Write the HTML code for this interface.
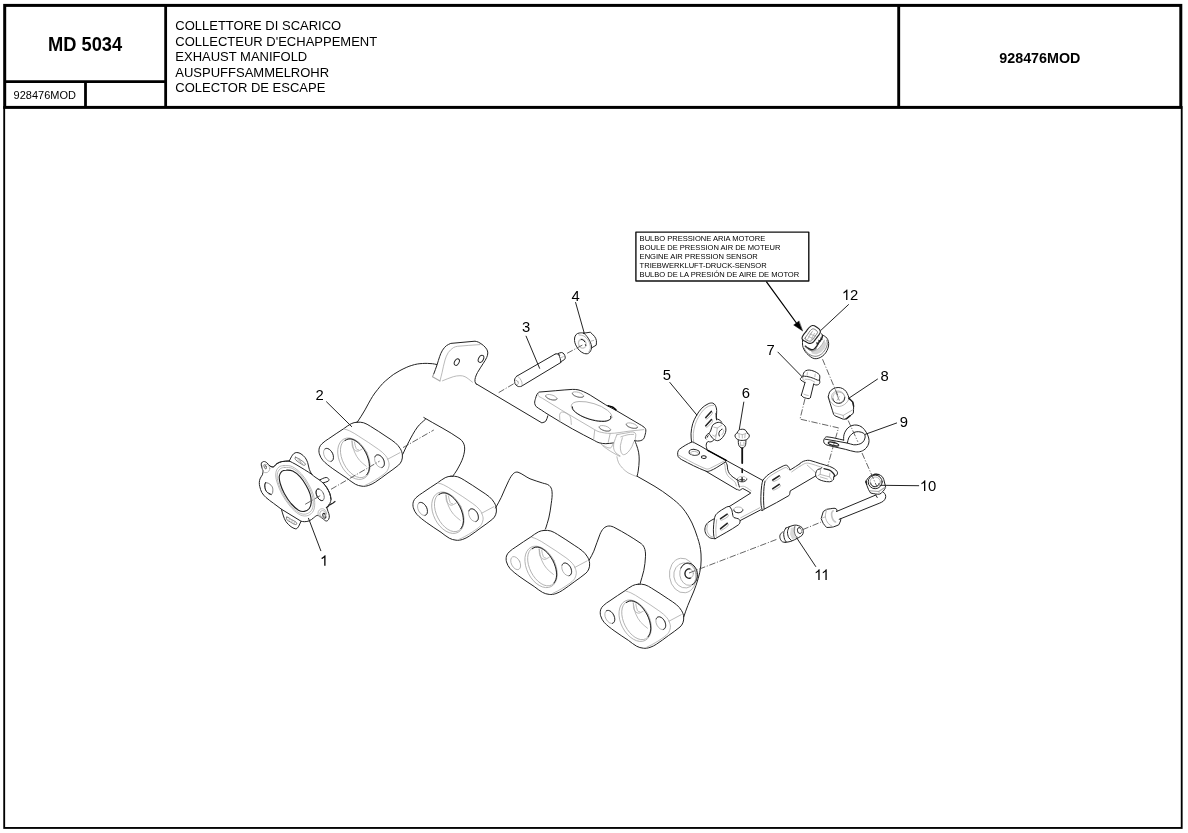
<!DOCTYPE html>
<html><head><meta charset="utf-8"><title>MD 5034</title>
<style>
html,body{margin:0;padding:0;background:#fff;}
body{width:1188px;height:833px;overflow:hidden;position:relative;font-family:"Liberation Sans",sans-serif;color:#000;}
svg{position:absolute;left:0;top:0;will-change:transform;}
text{font-family:"Liberation Sans",sans-serif;fill:#000;stroke:none;}
.t{font-size:13px;}
.n{font-size:13px;}
.l{font-size:7.5px;}
</style></head><body>
<svg width="1188" height="833" viewBox="0 0 1188 833">
<!-- FRAME -->
<g fill="none" stroke="#000">
<rect x="4.2" y="107" width="1177.5" height="720.95" stroke-width="1.85"/>
<rect x="4.7" y="5.4" width="1176.1" height="102" stroke-width="3"/>
<line x1="165.65" y1="5.4" x2="165.65" y2="107.4" stroke-width="2.8"/>
<line x1="898.7" y1="5.4" x2="898.7" y2="107.4" stroke-width="2.9"/>
<line x1="4.7" y1="81.6" x2="165.65" y2="81.6" stroke-width="2.8"/>
<line x1="85.5" y1="81.6" x2="85.5" y2="107.4" stroke-width="2.8"/>
</g>
<!-- HEADER TEXT -->
<text transform="translate(48.0 50.85) scale(0.915 1)" font-size="20" font-weight="bold">MD 5034</text>
<text transform="translate(13.6 98.5) scale(0.948 1)" font-size="11.6">928476MOD</text>
<text x="999.3" y="62.7" font-size="14.3" font-weight="bold">928476MOD</text>
<text class="t" x="175.3" y="29.8">COLLETTORE DI SCARICO</text>
<text class="t" x="175.3" y="45.6">COLLECTEUR D'ECHAPPEMENT</text>
<text class="t" x="175.3" y="61.2">EXHAUST MANIFOLD</text>
<text class="t" x="175.3" y="76.7">AUSPUFFSAMMELROHR</text>
<text class="t" x="175.3" y="92.0">COLECTOR DE ESCAPE</text>
<!-- DIAGRAM -->
<g id="diagram" fill="none" stroke-linecap="round" stroke-linejoin="round">
<g transform="translate(0 0)">
<path d="M357 422.2C355 422.3 353 422.8 351.2 423.7C348.5 425 346.2 427 343.7 428.7C338.7 432 333.6 435.2 328.7 438.7C326.4 440.2 324 441.7 322 443.7C320.8 444.8 319.8 446.2 319.3 447.8C318.8 449.7 318.8 451.8 319.3 453.7C320 456.1 321.2 458.5 322.8 460.3C325.7 463.6 329.4 466.1 332.8 468.7C337.4 472.1 342.3 475.1 347 478.3C349.8 480.3 352.3 482.6 355.3 484.2C357.4 485.3 359.7 486 362 486.2C364.2 486.5 366.5 486.1 368.7 485.4C371 484.7 373.2 483.4 375.3 482.1C379.4 479.5 383.1 476.5 387 473.7C390.9 470.8 395 468.2 398.7 465C399.9 463.9 401 462.4 401.6 460.8C402.3 459 402.6 457 402.4 455C402.2 452.8 401.5 450.6 400.3 448.7C399 446.5 397.3 444.5 395.3 442.8C392.8 440.6 389.8 438.9 387 437C381.5 433.3 376 429.6 370.3 426.2C368.2 424.9 366 423.5 363.7 422.8C361.5 422.2 359.2 422 357 422.2Z" stroke="#222" stroke-width="1.0" />
<path d="M344.5 429.1C346.2 429.6 347.9 430 349.5 430.8C352.7 432.3 355.7 434.2 358.7 436.2C365.4 440.5 372.2 444.8 378.7 449.5C381.1 451.2 383.4 453.1 385.3 455.3C386.5 456.6 387.4 458.3 388 459.9C388.6 461.6 389.3 463.5 389.1 465.3C388.8 467.6 388 469.9 386.6 471.6C384.4 474.2 381.4 475.9 378.7 477.8C376 479.7 373.2 481.2 370.3 482.8C368.7 483.7 367 484.5 365.3 485.3" stroke="#a8a8a8" stroke-width="0.8" />
<path d="M387.7 459.2L399.9 452.7" stroke="#a8a8a8" stroke-width="0.8" />
<ellipse cx="353.9" cy="458.7" rx="14.3" ry="22.1" transform="rotate(-27 353.9 458.7)" stroke="#a8a8a8" stroke-width="0.8"  />
<ellipse cx="354.9" cy="458.3" rx="12.3" ry="20.8" transform="rotate(-27 354.9 458.3)" stroke="#a8a8a8" stroke-width="0.8"  />
<path d="M345.1 440.6C346.1 440.1 347 439.2 348.1 439C349.4 438.7 350.7 438.8 351.9 439.1C353.4 439.5 354.8 440.2 356.1 441.1C357.6 442.1 359 443.3 360.3 444.7C361.7 446.2 362.9 447.8 364 449.6C365.2 451.3 366.2 453.3 367 455.2C367.8 457.1 368.4 459.1 368.9 461.1C369.2 462.9 369.5 464.8 369.5 466.7C369.4 468.3 369.2 469.9 368.7 471.4C368.3 472.6 367.4 473.6 366.8 474.7" stroke="#222" stroke-width="1.0" />
<path d="M352 440.8C352.3 443.1 351.8 445.7 352.8 447.8C353.6 449.4 355.2 450.9 357 451.2C358.8 451.4 360.3 449.8 362 449.1" stroke="#a8a8a8" stroke-width="0.8" />
<path d="M354.5 442C355.1 444.2 355.1 446.6 356.2 448.7C356.6 449.5 357.8 449.5 358.7 449.9" stroke="#a8a8a8" stroke-width="0.8" />
<path d="M352 441.2C352.8 444.8 353.1 448.5 354.5 452C355.7 455 357.4 457.8 359.5 460.3C361.4 462.6 363.9 464.2 366.2 466.2" stroke="#a8a8a8" stroke-width="0.8" />
<ellipse cx="328.5" cy="454.9" rx="4.3" ry="7" transform="rotate(-27 328.5 454.9)" stroke="#a8a8a8" stroke-width="0.8"  />
<path d="M325 448.9C325.5 448.7 325.9 448.4 326.4 448.4C326.9 448.3 327.5 448.5 328 448.6C328.6 448.9 329.2 449.2 329.7 449.6C330.3 450.1 330.8 450.6 331.3 451.2C331.7 451.8 332.2 452.5 332.5 453.2C332.8 453.9 333.1 454.7 333.3 455.4C333.4 456.1 333.5 456.9 333.5 457.6C333.5 458.2 333.4 458.8 333.2 459.4C333 459.9 332.7 460.4 332.3 460.7C331.9 461.1 331.4 461.2 331 461.4" stroke="#222"  stroke-width="0.85"/>
<ellipse cx="379.5" cy="461.2" rx="4.3" ry="6.8" transform="rotate(-27 379.5 461.2)" stroke="#a8a8a8" stroke-width="0.8"  />
<path d="M374.9 456.9C375.1 456.5 375.3 456 375.7 455.6C376 455.3 376.4 455 376.9 454.9C377.3 454.8 377.8 454.7 378.3 454.8C378.9 454.9 379.4 455.1 379.9 455.4C380.5 455.7 381 456.1 381.4 456.5C381.9 457 382.4 457.6 382.8 458.2C383.2 458.8 383.5 459.4 383.8 460.1C384 460.8 384.2 461.4 384.3 462.1C384.4 462.8 384.5 463.4 384.4 464.1C384.4 464.6 384.2 465.2 384 465.7C383.8 466.2 383.5 466.6 383.1 466.9C382.8 467.2 382.3 467.3 381.9 467.5" stroke="#222"  stroke-width="0.85"/>
</g>
<g transform="translate(94 54)">
<path d="M357 422.2C355 422.3 353 422.8 351.2 423.7C348.5 425 346.2 427 343.7 428.7C338.7 432 333.6 435.2 328.7 438.7C326.4 440.2 324 441.7 322 443.7C320.8 444.8 319.8 446.2 319.3 447.8C318.8 449.7 318.8 451.8 319.3 453.7C320 456.1 321.2 458.5 322.8 460.3C325.7 463.6 329.4 466.1 332.8 468.7C337.4 472.1 342.3 475.1 347 478.3C349.8 480.3 352.3 482.6 355.3 484.2C357.4 485.3 359.7 486 362 486.2C364.2 486.5 366.5 486.1 368.7 485.4C371 484.7 373.2 483.4 375.3 482.1C379.4 479.5 383.1 476.5 387 473.7C390.9 470.8 395 468.2 398.7 465C399.9 463.9 401 462.4 401.6 460.8C402.3 459 402.6 457 402.4 455C402.2 452.8 401.5 450.6 400.3 448.7C399 446.5 397.3 444.5 395.3 442.8C392.8 440.6 389.8 438.9 387 437C381.5 433.3 376 429.6 370.3 426.2C368.2 424.9 366 423.5 363.7 422.8C361.5 422.2 359.2 422 357 422.2Z" stroke="#222" stroke-width="1.0" />
<path d="M344.5 429.1C346.2 429.6 347.9 430 349.5 430.8C352.7 432.3 355.7 434.2 358.7 436.2C365.4 440.5 372.2 444.8 378.7 449.5C381.1 451.2 383.4 453.1 385.3 455.3C386.5 456.6 387.4 458.3 388 459.9C388.6 461.6 389.3 463.5 389.1 465.3C388.8 467.6 388 469.9 386.6 471.6C384.4 474.2 381.4 475.9 378.7 477.8C376 479.7 373.2 481.2 370.3 482.8C368.7 483.7 367 484.5 365.3 485.3" stroke="#a8a8a8" stroke-width="0.8" />
<path d="M387.7 459.2L399.9 452.7" stroke="#a8a8a8" stroke-width="0.8" />
<ellipse cx="353.9" cy="458.7" rx="14.3" ry="22.1" transform="rotate(-27 353.9 458.7)" stroke="#a8a8a8" stroke-width="0.8"  />
<ellipse cx="354.9" cy="458.3" rx="12.3" ry="20.8" transform="rotate(-27 354.9 458.3)" stroke="#a8a8a8" stroke-width="0.8"  />
<path d="M345.1 440.6C346.1 440.1 347 439.2 348.1 439C349.4 438.7 350.7 438.8 351.9 439.1C353.4 439.5 354.8 440.2 356.1 441.1C357.6 442.1 359 443.3 360.3 444.7C361.7 446.2 362.9 447.8 364 449.6C365.2 451.3 366.2 453.3 367 455.2C367.8 457.1 368.4 459.1 368.9 461.1C369.2 462.9 369.5 464.8 369.5 466.7C369.4 468.3 369.2 469.9 368.7 471.4C368.3 472.6 367.4 473.6 366.8 474.7" stroke="#222" stroke-width="1.0" />
<path d="M352 440.8C352.3 443.1 351.8 445.7 352.8 447.8C353.6 449.4 355.2 450.9 357 451.2C358.8 451.4 360.3 449.8 362 449.1" stroke="#a8a8a8" stroke-width="0.8" />
<path d="M354.5 442C355.1 444.2 355.1 446.6 356.2 448.7C356.6 449.5 357.8 449.5 358.7 449.9" stroke="#a8a8a8" stroke-width="0.8" />
<path d="M352 441.2C352.8 444.8 353.1 448.5 354.5 452C355.7 455 357.4 457.8 359.5 460.3C361.4 462.6 363.9 464.2 366.2 466.2" stroke="#a8a8a8" stroke-width="0.8" />
<ellipse cx="328.5" cy="454.9" rx="4.3" ry="7" transform="rotate(-27 328.5 454.9)" stroke="#a8a8a8" stroke-width="0.8"  />
<path d="M325 448.9C325.5 448.7 325.9 448.4 326.4 448.4C326.9 448.3 327.5 448.5 328 448.6C328.6 448.9 329.2 449.2 329.7 449.6C330.3 450.1 330.8 450.6 331.3 451.2C331.7 451.8 332.2 452.5 332.5 453.2C332.8 453.9 333.1 454.7 333.3 455.4C333.4 456.1 333.5 456.9 333.5 457.6C333.5 458.2 333.4 458.8 333.2 459.4C333 459.9 332.7 460.4 332.3 460.7C331.9 461.1 331.4 461.2 331 461.4" stroke="#222"  stroke-width="0.85"/>
<ellipse cx="379.5" cy="461.2" rx="4.3" ry="6.8" transform="rotate(-27 379.5 461.2)" stroke="#a8a8a8" stroke-width="0.8"  />
<path d="M374.9 456.9C375.1 456.5 375.3 456 375.7 455.6C376 455.3 376.4 455 376.9 454.9C377.3 454.8 377.8 454.7 378.3 454.8C378.9 454.9 379.4 455.1 379.9 455.4C380.5 455.7 381 456.1 381.4 456.5C381.9 457 382.4 457.6 382.8 458.2C383.2 458.8 383.5 459.4 383.8 460.1C384 460.8 384.2 461.4 384.3 462.1C384.4 462.8 384.5 463.4 384.4 464.1C384.4 464.6 384.2 465.2 384 465.7C383.8 466.2 383.5 466.6 383.1 466.9C382.8 467.2 382.3 467.3 381.9 467.5" stroke="#222"  stroke-width="0.85"/>
</g>
<g transform="translate(187.2 108.2)">
<path d="M357 422.2C355 422.3 353 422.8 351.2 423.7C348.5 425 346.2 427 343.7 428.7C338.7 432 333.6 435.2 328.7 438.7C326.4 440.2 324 441.7 322 443.7C320.8 444.8 319.8 446.2 319.3 447.8C318.8 449.7 318.8 451.8 319.3 453.7C320 456.1 321.2 458.5 322.8 460.3C325.7 463.6 329.4 466.1 332.8 468.7C337.4 472.1 342.3 475.1 347 478.3C349.8 480.3 352.3 482.6 355.3 484.2C357.4 485.3 359.7 486 362 486.2C364.2 486.5 366.5 486.1 368.7 485.4C371 484.7 373.2 483.4 375.3 482.1C379.4 479.5 383.1 476.5 387 473.7C390.9 470.8 395 468.2 398.7 465C399.9 463.9 401 462.4 401.6 460.8C402.3 459 402.6 457 402.4 455C402.2 452.8 401.5 450.6 400.3 448.7C399 446.5 397.3 444.5 395.3 442.8C392.8 440.6 389.8 438.9 387 437C381.5 433.3 376 429.6 370.3 426.2C368.2 424.9 366 423.5 363.7 422.8C361.5 422.2 359.2 422 357 422.2Z" stroke="#222" stroke-width="1.0" />
<path d="M344.5 429.1C346.2 429.6 347.9 430 349.5 430.8C352.7 432.3 355.7 434.2 358.7 436.2C365.4 440.5 372.2 444.8 378.7 449.5C381.1 451.2 383.4 453.1 385.3 455.3C386.5 456.6 387.4 458.3 388 459.9C388.6 461.6 389.3 463.5 389.1 465.3C388.8 467.6 388 469.9 386.6 471.6C384.4 474.2 381.4 475.9 378.7 477.8C376 479.7 373.2 481.2 370.3 482.8C368.7 483.7 367 484.5 365.3 485.3" stroke="#a8a8a8" stroke-width="0.8" />
<path d="M387.7 459.2L399.9 452.7" stroke="#a8a8a8" stroke-width="0.8" />
<ellipse cx="353.9" cy="458.7" rx="14.3" ry="22.1" transform="rotate(-27 353.9 458.7)" stroke="#a8a8a8" stroke-width="0.8"  />
<ellipse cx="354.9" cy="458.3" rx="12.3" ry="20.8" transform="rotate(-27 354.9 458.3)" stroke="#a8a8a8" stroke-width="0.8"  />
<path d="M345.1 440.6C346.1 440.1 347 439.2 348.1 439C349.4 438.7 350.7 438.8 351.9 439.1C353.4 439.5 354.8 440.2 356.1 441.1C357.6 442.1 359 443.3 360.3 444.7C361.7 446.2 362.9 447.8 364 449.6C365.2 451.3 366.2 453.3 367 455.2C367.8 457.1 368.4 459.1 368.9 461.1C369.2 462.9 369.5 464.8 369.5 466.7C369.4 468.3 369.2 469.9 368.7 471.4C368.3 472.6 367.4 473.6 366.8 474.7" stroke="#222" stroke-width="1.0" />
<path d="M352 440.8C352.3 443.1 351.8 445.7 352.8 447.8C353.6 449.4 355.2 450.9 357 451.2C358.8 451.4 360.3 449.8 362 449.1" stroke="#a8a8a8" stroke-width="0.8" />
<path d="M354.5 442C355.1 444.2 355.1 446.6 356.2 448.7C356.6 449.5 357.8 449.5 358.7 449.9" stroke="#a8a8a8" stroke-width="0.8" />
<path d="M352 441.2C352.8 444.8 353.1 448.5 354.5 452C355.7 455 357.4 457.8 359.5 460.3C361.4 462.6 363.9 464.2 366.2 466.2" stroke="#a8a8a8" stroke-width="0.8" />
<ellipse cx="328.5" cy="454.9" rx="4.3" ry="7" transform="rotate(-27 328.5 454.9)" stroke="#a8a8a8" stroke-width="0.8"  />
<ellipse cx="379.5" cy="461.2" rx="4.3" ry="6.8" transform="rotate(-27 379.5 461.2)" stroke="#a8a8a8" stroke-width="0.8"  />
<path d="M374.9 456.9C375.1 456.5 375.3 456 375.7 455.6C376 455.3 376.4 455 376.9 454.9C377.3 454.8 377.8 454.7 378.3 454.8C378.9 454.9 379.4 455.1 379.9 455.4C380.5 455.7 381 456.1 381.4 456.5C381.9 457 382.4 457.6 382.8 458.2C383.2 458.8 383.5 459.4 383.8 460.1C384 460.8 384.2 461.4 384.3 462.1C384.4 462.8 384.5 463.4 384.4 464.1C384.4 464.6 384.2 465.2 384 465.7C383.8 466.2 383.5 466.6 383.1 466.9C382.8 467.2 382.3 467.3 381.9 467.5" stroke="#222"  stroke-width="0.85"/>
</g>
<g transform="translate(281.3 162)">
<path d="M357 422.2C355 422.3 353 422.8 351.2 423.7C348.5 425 346.2 427 343.7 428.7C338.7 432 333.6 435.2 328.7 438.7C326.4 440.2 324 441.7 322 443.7C320.8 444.8 319.8 446.2 319.3 447.8C318.8 449.7 318.8 451.8 319.3 453.7C320 456.1 321.2 458.5 322.8 460.3C325.7 463.6 329.4 466.1 332.8 468.7C337.4 472.1 342.3 475.1 347 478.3C349.8 480.3 352.3 482.6 355.3 484.2C357.4 485.3 359.7 486 362 486.2C364.2 486.5 366.5 486.1 368.7 485.4C371 484.7 373.2 483.4 375.3 482.1C379.4 479.5 383.1 476.5 387 473.7C390.9 470.8 395 468.2 398.7 465C399.9 463.9 401 462.4 401.6 460.8C402.3 459 402.6 457 402.4 455C402.2 452.8 401.5 450.6 400.3 448.7C399 446.5 397.3 444.5 395.3 442.8C392.8 440.6 389.8 438.9 387 437C381.5 433.3 376 429.6 370.3 426.2C368.2 424.9 366 423.5 363.7 422.8C361.5 422.2 359.2 422 357 422.2Z" stroke="#222" stroke-width="1.0" />
<path d="M344.5 429.1C346.2 429.6 347.9 430 349.5 430.8C352.7 432.3 355.7 434.2 358.7 436.2C365.4 440.5 372.2 444.8 378.7 449.5C381.1 451.2 383.4 453.1 385.3 455.3C386.5 456.6 387.4 458.3 388 459.9C388.6 461.6 389.3 463.5 389.1 465.3C388.8 467.6 388 469.9 386.6 471.6C384.4 474.2 381.4 475.9 378.7 477.8C376 479.7 373.2 481.2 370.3 482.8C368.7 483.7 367 484.5 365.3 485.3" stroke="#a8a8a8" stroke-width="0.8" />
<path d="M387.7 459.2L399.9 452.7" stroke="#a8a8a8" stroke-width="0.8" />
<ellipse cx="353.9" cy="458.7" rx="14.3" ry="22.1" transform="rotate(-27 353.9 458.7)" stroke="#a8a8a8" stroke-width="0.8"  />
<ellipse cx="354.9" cy="458.3" rx="12.3" ry="20.8" transform="rotate(-27 354.9 458.3)" stroke="#a8a8a8" stroke-width="0.8"  />
<path d="M345.1 440.6C346.1 440.1 347 439.2 348.1 439C349.4 438.7 350.7 438.8 351.9 439.1C353.4 439.5 354.8 440.2 356.1 441.1C357.6 442.1 359 443.3 360.3 444.7C361.7 446.2 362.9 447.8 364 449.6C365.2 451.3 366.2 453.3 367 455.2C367.8 457.1 368.4 459.1 368.9 461.1C369.2 462.9 369.5 464.8 369.5 466.7C369.4 468.3 369.2 469.9 368.7 471.4C368.3 472.6 367.4 473.6 366.8 474.7" stroke="#222" stroke-width="1.0" />
<path d="M352 440.8C352.3 443.1 351.8 445.7 352.8 447.8C353.6 449.4 355.2 450.9 357 451.2C358.8 451.4 360.3 449.8 362 449.1" stroke="#a8a8a8" stroke-width="0.8" />
<path d="M354.5 442C355.1 444.2 355.1 446.6 356.2 448.7C356.6 449.5 357.8 449.5 358.7 449.9" stroke="#a8a8a8" stroke-width="0.8" />
<path d="M352 441.2C352.8 444.8 353.1 448.5 354.5 452C355.7 455 357.4 457.8 359.5 460.3C361.4 462.6 363.9 464.2 366.2 466.2" stroke="#a8a8a8" stroke-width="0.8" />
<ellipse cx="328.5" cy="454.9" rx="4.3" ry="7" transform="rotate(-27 328.5 454.9)" stroke="#a8a8a8" stroke-width="0.8"  />
<path d="M325 448.9C325.5 448.7 325.9 448.4 326.4 448.4C326.9 448.3 327.5 448.5 328 448.6C328.6 448.9 329.2 449.2 329.7 449.6C330.3 450.1 330.8 450.6 331.3 451.2C331.7 451.8 332.2 452.5 332.5 453.2C332.8 453.9 333.1 454.7 333.3 455.4C333.4 456.1 333.5 456.9 333.5 457.6C333.5 458.2 333.4 458.8 333.2 459.4C333 459.9 332.7 460.4 332.3 460.7C331.9 461.1 331.4 461.2 331 461.4" stroke="#222"  stroke-width="0.85"/>
<ellipse cx="379.5" cy="461.2" rx="4.3" ry="6.8" transform="rotate(-27 379.5 461.2)" stroke="#a8a8a8" stroke-width="0.8"  />
<path d="M374.9 456.9C375.1 456.5 375.3 456 375.7 455.6C376 455.3 376.4 455 376.9 454.9C377.3 454.8 377.8 454.7 378.3 454.8C378.9 454.9 379.4 455.1 379.9 455.4C380.5 455.7 381 456.1 381.4 456.5C381.9 457 382.4 457.6 382.8 458.2C383.2 458.8 383.5 459.4 383.8 460.1C384 460.8 384.2 461.4 384.3 462.1C384.4 462.8 384.5 463.4 384.4 464.1C384.4 464.6 384.2 465.2 384 465.7C383.8 466.2 383.5 466.6 383.1 466.9C382.8 467.2 382.3 467.3 381.9 467.5" stroke="#222"  stroke-width="0.85"/>
</g>
<path d="M357.5 421.8C358.7 419.9 360 418.1 361.2 416.2C362.5 414.1 363.8 412 365 409.9C366.3 407.7 367.5 405.3 368.7 403.1C370 400.9 371.1 398.6 372.5 396.5C374 394.1 375.7 391.9 377.5 389.7C379.1 387.7 380.7 385.6 382.5 383.7C384.2 381.9 386.2 380.3 388.1 378.7C389.9 377.2 391.7 375.7 393.7 374.3C395.7 373 397.8 371.8 399.9 370.6C402 369.5 404.1 368.4 406.2 367.5C408 366.7 409.9 365.9 411.8 365.4C413.7 364.8 415.5 364.3 417.4 364C419.1 363.7 420.8 363.6 422.4 363.5C424.1 363.4 425.8 363.3 427.4 363.4C429.1 363.4 430.8 363.5 432.4 363.7C433.9 363.9 435.3 364.2 436.8 364.5" stroke="#222" stroke-width="1.0" />
<path d="M433.5 374.6C434.7 371.3 436 368 437.1 364.7C438 362 438.6 359.3 439.6 356.7C440.4 354.4 441.2 352.2 442.5 350.2C443.6 348.4 444.9 346.9 446.5 345.6C447.8 344.6 449.4 344.1 450.8 343.4L475 341.2C476.1 341.5 477.3 341.6 478.3 342.1C480.1 343 481.8 344.1 483.3 345.4C484.6 346.5 485.8 347.7 486.7 349.2C487.3 350.3 487.8 351.6 487.8 352.9C487.8 354.5 487.3 356.1 486.7 357.5C485.8 359.6 484.5 361.4 483.3 363.3C481.4 366.4 479.3 369.3 477.5 372.5C476.6 374.1 475.9 375.8 475.4 377.5C475 378.8 474.8 380.3 475 381.7C475.1 382.6 475.9 383.4 476.3 384.2" stroke="#222" stroke-width="1.0" />
<path d="M433.5 374.6L432.5 376.7L440 380.9" stroke="#a8a8a8"  stroke-width="1.1"/>
<path d="M440 380.9C440.7 378.1 441.4 375.3 442.1 372.5C443.1 368.3 443.7 364.1 445 360C445.8 357.4 446.8 354.8 448.3 352.5C449.6 350.6 451.4 349 453.3 347.7C454.5 346.9 456.1 346.5 457.5 346.3C465 345.5 472.5 345.2 480 344.6" stroke="#a8a8a8" stroke-width="0.8" />
<path d="M442.5 380.8C446.1 379.4 449.6 377.8 453.3 376.7C455.5 376 457.8 375.7 460 375.7C461.7 375.7 463.5 375.9 465 376.7C467.8 378.1 470 380.3 472.5 382.2" stroke="#a8a8a8" stroke-width="0.8" />
<ellipse cx="456.8" cy="362.1" rx="2.2" ry="3.5" transform="rotate(28 456.8 362.1)" stroke="#222"  stroke-width="0.95" />
<ellipse cx="481" cy="358.8" rx="2.4" ry="3.8" transform="rotate(28 481 358.8)" stroke="#222"  stroke-width="0.95" />
<path d="M476.3 383.9L541.9 422.9C543.2 422.3 544.9 422.2 545.8 421.1C547 419.6 547.1 417.5 547.8 415.8" stroke="#222" stroke-width="1.0" />
<path d="M402.8 454.2C404.8 450.1 406.5 445.8 408.8 441.8C411.5 436.7 414.1 431.6 417.5 427C419.7 424 422.8 421.8 425.5 419.2" stroke="#222" stroke-width="1.0" />
<path d="M423.8 417.5C435.8 424.7 448.5 430.9 460 439C462.3 440.6 464 443.4 464.5 446.2C465.1 450 464.1 453.9 463 457.5C461.6 461.9 459.2 466 457 470C455.7 472.3 454 474.3 452.5 476.5" stroke="#222" stroke-width="1.0" />
<path d="M495.5 508C497.4 504.5 499.5 501.1 501.2 497.5C503.9 491.9 505.9 486 508.8 480.5C510.1 477.9 511.6 475.2 513.8 473.2C514.8 472.3 516.6 471.8 518 472.2C522.3 473.7 525.8 476.9 530 478.8C534 480.5 538.3 481.5 542.5 483C544.8 483.8 547.4 483.9 549.2 485.5C550.9 486.9 551.8 489.1 552 491.2C552.5 495.4 551.8 499.6 551.2 503.8C550.7 508.5 549.8 513.3 548.8 518C547.9 521.7 546.6 525.3 545.5 529" stroke="#222" stroke-width="1.0" />
<path d="M589.2 560C590.8 557.1 592.5 554.3 593.8 551.2C596.1 545.7 597.6 539.8 600 534.2C600.9 532.1 602 529.9 603.8 528.2C605.1 527 606.9 526.1 608.8 526C610.9 525.9 613.1 526.7 615 527.8C623.6 532.3 631.9 537.3 640 542.8C641.8 543.9 643.4 545.5 644.2 547.5C645.4 550.2 645.6 553.3 645.5 556.2C645.4 561 644.7 565.8 643.8 570.5C642.8 575.1 641.2 579.5 640 584" stroke="#222" stroke-width="1.0" />
<path d="M637 476.2C643 479.7 649.1 482.9 655 486.5C660.1 489.7 665.2 493 670 496.8C674.4 500.2 678.9 503.7 682.5 508C686.3 512.5 689.3 517.7 692 523C694.3 527.6 695.8 532.6 697.5 537.5C698.4 540.1 699.2 542.8 699.8 545.5C700.3 548.3 700.9 551.1 701 554C701.2 558 701.2 562 700.8 566C700.3 570.2 699.4 574.4 698.2 578.5C697 583.1 695.2 587.6 693.5 592C691.7 596.6 689.5 600.9 687.8 605.5C686.3 609.2 685.1 613 683.8 616.8" stroke="#222" stroke-width="1.0" />
<ellipse cx="682.9" cy="575.5" rx="13.4" ry="17.4" transform="rotate(-8 682.9 575.5)" stroke="#a8a8a8" stroke-width="0.8"  />
<ellipse cx="685" cy="575.4" rx="11.2" ry="12.6" transform="rotate(-8 685 575.4)" stroke="#a8a8a8" stroke-width="0.8"  />
<ellipse cx="688.6" cy="574.2" rx="8.8" ry="11.2" transform="rotate(-8 688.6 574.2)" stroke="#a8a8a8" stroke-width="0.8"  />
<path d="M680.9 568.1C681.5 567.2 682 566.1 682.8 565.3C683.5 564.6 684.4 564 685.4 563.6C686.3 563.2 687.3 563.1 688.3 563.1C689.4 563.2 690.4 563.5 691.3 563.9C692.3 564.4 693.2 565.1 694 565.9C694.8 566.8 695.5 567.8 696 568.8C696.6 570 697 571.2 697.2 572.4C697.4 573.6 697.5 574.9 697.4 576.2C697.3 577.4 697 578.6 696.6 579.7C696.1 580.8 695.6 581.8 694.8 582.7C694.1 583.5 693.2 584 692.3 584.6" stroke="#222" stroke-width="1.0" />
<ellipse cx="689.2" cy="573.6" rx="4.2" ry="4.7" transform="rotate(0 689.2 573.6)" stroke="#a8a8a8" stroke-width="0.8"  />
<path d="M690.6 578C690.1 578.1 689.7 578.3 689.2 578.3C688.8 578.3 688.3 578.2 687.8 578C687.4 577.9 687 577.6 686.6 577.3C686.2 577 685.9 576.6 685.7 576.2C685.4 575.7 685.2 575.3 685.1 574.8C685 574.2 684.9 573.7 685 573.2C685 572.7 685.1 572.2 685.3 571.7C685.5 571.2 685.8 570.8 686.1 570.4C686.4 570 686.8 569.7 687.2 569.4C687.6 569.2 688 569 688.5 568.9C689 568.8 689.4 568.9 689.9 568.9" stroke="#222"  stroke-width="1.2"/>
<path d="M634.7 440.6C635.2 441.9 635.9 443.1 636.3 444.4C637.2 447 638.1 449.6 638.6 452.2C639 454.8 639.3 457.4 639.2 460C639.2 463.7 638.7 467.4 638.2 471.1C638 472.9 637.4 474.7 637 476.4" stroke="#222" stroke-width="1.0" />
<path d="M616.9 456.7C617.4 458.7 617.6 460.9 618.6 462.8C619.5 464.7 621 466.4 622.4 468C624.1 469.8 625.9 471.5 628 472.8C630.6 474.4 633.6 475.2 636.3 476.4" stroke="#a8a8a8" stroke-width="0.8" />
<path d="M289.3 461C290 459.6 290.6 458.2 291.4 456.8C292.1 455.7 292.7 454.5 293.7 453.7C294.5 453 295.7 452.5 296.8 452.5C298.3 452.5 299.8 453.1 301 453.9C302.6 454.9 304 456.2 305.2 457.7C306.3 459.1 307 460.9 307.7 462.7C308.4 464.8 308.6 467.2 309.3 469.3C310 471.1 310.7 472.9 311.8 474.3C312.9 475.7 314.6 476.6 316 477.7C317.1 478.5 318.3 479.2 319.5 480C321.7 479.2 323.7 477.7 326 477.5C327.1 477.4 328.3 478.3 328.9 479.3C329.2 479.9 328.7 480.8 328.1 481.2C326.6 482.1 324.8 482.3 323.1 482.8C324.3 484.4 325.8 485.9 326.8 487.7C328 489.5 329 491.5 329.8 493.5C330.4 495.4 331 497.3 331 499.3C331 500.8 330.4 502.2 329.8 503.5C329 505 327.7 506.1 326.7 507.4C327.1 508.8 327.6 510.2 328.1 511.7C328.5 513 329.3 514.4 329.3 515.8C329.4 517.1 329.2 518.5 328.5 519.6C328 520.4 327.1 521.1 326.2 521C325.1 520.9 324.4 519.8 323.5 519.2C322.4 518.4 321.4 517.4 320.2 516.7C319.3 516.1 318.3 515.2 317.2 515.4C315.8 515.7 314.7 517.1 313.5 517.9C312.1 518.9 310.9 520.2 309.3 520.8C307.8 521.5 306 521.6 304.3 521.7C303.2 521.7 302.1 521.4 301 521.2C300.4 522.5 300 523.8 299.3 525C298.7 526.2 298.2 527.5 297.2 528.3C296.7 528.8 295.9 528.9 295.2 528.8C293.7 528.3 292.2 527.6 291 526.7C289.1 525.2 287.3 523.6 286 521.7C284.6 519.7 283.9 517.3 283.1 515C282.4 513.1 282 511.1 281.4 509.2C278.8 507.2 276.1 505.3 273.5 503.3C271 501.4 268.3 499.7 266 497.5C264.4 496 262.9 494.4 261.8 492.5C260.8 490.7 260.3 488.7 259.8 486.7C259.4 485.3 259.3 483.9 259.3 482.5C259.4 481.3 259.6 480 260 478.9C260.6 477.4 261.6 476.1 262.4 474.8C262.6 473.5 263.2 472.3 263.1 471C262.9 469.5 261.9 468.3 261.6 466.8C261.3 465.6 261 464.2 261.4 463.1C261.8 462.2 262.8 461.6 263.7 461.5C264.8 461.4 265.9 462 266.8 462.7C268.2 463.6 268.8 465.4 270.2 466.2C271.1 466.8 272.4 467.2 273.5 466.8C274.9 466.3 275.5 464.5 276.8 463.7C278.4 462.7 280.1 462 281.8 461.6C284.3 461.1 286.8 461.2 289.3 461Z" stroke="#222" stroke-width="1.0" />
<path d="M281.4 509.2L301 521.2" stroke="#222" stroke-width="1.0" />
<path d="M289.3 461C291.6 462.2 293.8 463.3 296 464.5C298.8 466.1 301.6 467.8 304.3 469.5C307 471.2 309.6 472.9 312.2 474.6" stroke="#222" stroke-width="1.0" />
<path d="M270.2 466.2C271.3 466.4 272.4 467.2 273.5 466.8C274.9 466.3 275.5 464.5 276.8 463.7C278.4 462.7 280.1 462 281.8 461.6C284.3 461.1 286.8 461.2 289.3 461" stroke="#222" stroke-width="1.0" />
<path d="M319.5 480C320.8 481.2 322.3 482.2 323.5 483.5C324.7 484.8 325.9 486.2 326.8 487.7C328 489.5 329 491.5 329.8 493.5C330.4 495.4 330.6 497.4 331 499.3" stroke="#222" stroke-width="1.0" />
<path d="M286 470.2C288.2 470.1 290.6 470 292.7 471C295.5 472.3 298 474.5 300.2 476.8C302.5 479.3 304.3 482.2 306 485.2C307.7 488.1 309.2 491.1 310.2 494.3C311 497 311.3 499.9 311.2 502.7C311 504.7 310.6 506.9 309.3 508.5C308.1 510 306.2 511.1 304.3 511.4C302.4 511.7 300.2 511.2 298.5 510.2C295.6 508.5 293.2 506 291 503.5C288.4 500.4 286.2 497 284.3 493.5C282.6 490.3 281.2 487 280.2 483.5C279.5 481.1 279 478.5 279.3 476C279.6 474.3 280.5 472.6 281.8 471.4C282.9 470.5 284.6 470.2 286 470.2Z" stroke="#222"  stroke-width="1.15"/>
<path d="M284.8 467.5C287.3 467.4 290.1 467.3 292.3 468.4C295.6 469.9 298.4 472.4 300.8 475C303.4 477.8 305.5 481.1 307.4 484.4C309.3 487.7 311 491.1 312.1 494.8C313 497.8 313.4 501 313.2 504.2C313.1 506.5 312.6 509 311.2 510.8C309.8 512.5 307.7 513.7 305.5 514.1C303.3 514.4 300.9 513.8 298.9 512.7C295.7 510.7 292.9 508 290.5 505.1C287.5 501.7 285.1 497.8 282.9 493.8C281 490.2 279.3 486.4 278.2 482.5C277.4 479.8 276.9 476.9 277.3 474.1C277.5 472.1 278.6 470.2 280.1 468.9C281.3 467.8 283.2 467.5 284.8 467.5Z" stroke="#a8a8a8" stroke-width="0.8" />
<path d="M284 465.6C286.7 465.5 289.6 465.4 292.1 466.6C295.6 468.2 298.6 470.9 301.3 473.7C304.1 476.7 306.3 480.3 308.4 483.9C310.4 487.4 312.3 491.1 313.5 495.1C314.4 498.3 314.9 501.8 314.7 505.2C314.5 507.7 314 510.4 312.4 512.4C311 514.2 308.7 515.6 306.4 515.9C304 516.3 301.3 515.6 299.2 514.4C295.7 512.3 292.7 509.4 290.1 506.2C286.9 502.5 284.3 498.3 281.9 494.1C279.9 490.2 278.1 486.1 276.9 481.9C276 478.9 275.4 475.7 275.9 472.7C276.1 470.6 277.3 468.5 278.9 467.1C280.2 465.9 282.2 465.7 284 465.6Z" stroke="#a8a8a8" stroke-width="0.8" />
<path d="M265.6 482.7C267.6 482.4 269.5 483.8 271 485.2C272.1 486.2 272.8 487.8 272.8 489.3C272.9 491.1 272.9 493.9 271.2 494.5C269.4 495.1 267.6 492.9 266.4 491.4C265.3 489.9 264.9 487.9 264.8 486C264.6 484.9 264.4 482.8 265.6 482.7Z" stroke="#6a6a6a" stroke-width="0.85" />
<path d="M265.6 482.7C265.3 483.8 264.6 484.9 264.8 486C264.9 487.9 265.3 489.9 266.4 491.4C267.6 492.9 269.6 493.5 271.2 494.5" stroke="#222" stroke-width="1.0" />
<ellipse cx="320.2" cy="494.8" rx="3.5" ry="6.2" transform="rotate(-25 320.2 494.8)" stroke="#6a6a6a" stroke-width="0.85"  />
<path d="M322.8 500.4C322.4 500.5 322.1 500.6 321.7 500.6C321.2 500.6 320.8 500.4 320.4 500.2C319.9 499.9 319.5 499.6 319.1 499.2C318.7 498.8 318.3 498.3 317.9 497.8C317.5 497.3 317.2 496.7 317 496.1C316.7 495.5 316.5 494.9 316.3 494.3C316.2 493.7 316.1 493.1 316 492.5C316 492 316.1 491.4 316.2 490.9C316.3 490.5 316.5 490.1 316.7 489.7C317 489.4 317.3 489.2 317.6 489C318 488.9 318.4 489 318.8 488.9" stroke="#222" stroke-width="1.0" />
<path d="M295.6 457.2C297.3 457.7 298.7 458.8 300.2 459.8C301.6 460.6 303.1 461.5 304.3 462.7C304.9 463.2 305.6 464 305.3 464.8C305.1 465.3 304.1 465.4 303.5 465.2C302 464.6 300.7 463.6 299.3 462.7C298.2 461.9 297 461.1 296 460.2C295.5 459.7 295.1 459 295 458.3C294.9 457.9 295.2 457.1 295.6 457.2Z" stroke="#6a6a6a" stroke-width="0.85" />
<path d="M297.7 459.3L302.7 463.9" stroke="#a8a8a8" stroke-width="0.8" />
<path d="M299.3 458.5L301 463.5" stroke="#a8a8a8" stroke-width="0.8" />
<path d="M286.8 517.1C288.6 517.1 289.9 518.8 291.4 519.6C292.9 520.4 294.7 520.9 296 522.1C296.5 522.6 297 523.6 296.6 524.2C296.2 524.7 295.2 524.6 294.5 524.3C293.1 523.8 291.9 522.9 290.6 522.1C289.3 521.3 287.7 520.8 286.8 519.6C286.3 518.9 286 517.1 286.8 517.1Z" stroke="#6a6a6a" stroke-width="0.85" />
<path d="M289.3 518.8L288.9 520.8" stroke="#a8a8a8" stroke-width="0.8" />
<path d="M292.2 520.4L291.8 522.5" stroke="#a8a8a8" stroke-width="0.8" />
<path d="M294.3 521.7L294.2 523.8" stroke="#a8a8a8" stroke-width="0.8" />
<ellipse cx="265.2" cy="466.8" rx="1" ry="2.3" transform="rotate(-20 265.2 466.8)" stroke="#6a6a6a" stroke-width="0.85"  />
<ellipse cx="266" cy="468.5" rx="3.8" ry="4.2" transform="rotate(0 266 468.5)" stroke="#a8a8a8" stroke-width="0.8"  />
<ellipse cx="324.3" cy="515.8" rx="1.3" ry="2.5" transform="rotate(-20 324.3 515.8)" stroke="#222" stroke-width="1.0"  />
<ellipse cx="322.2" cy="513.3" rx="4.2" ry="4.6" transform="rotate(0 322.2 513.3)" stroke="#a8a8a8" stroke-width="0.8"  />
<ellipse cx="322.7" cy="513.8" rx="2.9" ry="3.3" transform="rotate(0 322.7 513.8)" stroke="#a8a8a8" stroke-width="0.8"  />
<path d="M326.4 507.5C327 507.2 327.6 506.9 328.1 506.5C328.6 506.1 328.8 505.4 329.3 505C330.4 504.3 331.6 503.8 332.7 503.2C333.5 502.7 334.2 502.1 335 501.5" stroke="#222"  stroke-width="1.2"/>
<path d="M516.7 376.2L555 354.2" stroke="#222" stroke-width="1.0" />
<path d="M521.2 386.4L560.8 362.5" stroke="#222" stroke-width="1.0" />
<path d="M516.7 376.2C516 377.2 515 377.9 514.8 379C514.4 380.4 514.3 382 514.8 383.3C515.4 384.7 516.6 385.8 517.9 386.4C518.9 386.9 520.1 386.4 521.2 386.4" stroke="#222" stroke-width="1.0" />
<path d="M518.3 376.8C519.3 378 520.6 379 521.2 380.4C521.9 381.7 522.1 383.2 522.1 384.6C522.1 385.3 521.5 385.8 521.2 386.4" stroke="#a8a8a8" stroke-width="0.8" />
<ellipse cx="516.7" cy="382.5" rx="1.5" ry="2.2" transform="rotate(-25 516.7 382.5)" stroke="#a8a8a8" stroke-width="0.8"  />
<path d="M555 354.2C555.7 354 556.4 353.6 557.1 353.8C557.8 353.9 558.4 354.4 558.8 355C559.4 356 559.8 357.2 560.2 358.3C560.5 359.7 560.6 361.1 560.8 362.5" stroke="#222" stroke-width="1.0" />
<path d="M558.3 353.5C559.4 353.2 560.5 352.4 561.7 352.5C562.6 352.6 563.4 353.3 564 354C564.7 354.9 565 356 565.2 357.1C565.3 357.8 565.2 358.8 564.7 359.3C563.7 360.4 562.2 360.8 561 361.5" stroke="#222" stroke-width="1.0" />
<path d="M558.3 353.5L559.6 355.4" stroke="#222" stroke-width="1.0" />
<path d="M560.7 357.7L563.3 356.7" stroke="#a8a8a8" stroke-width="0.8" />
<path d="M583.7 333.2C582.4 332.6 580.8 332.8 579.3 333C578.2 333.2 576.9 333.6 576.2 334.5C575.3 335.4 574.8 336.8 574.6 338C574.4 339.6 574.5 341.2 574.9 342.7C575.3 344.2 576 345.6 576.8 346.9C577.6 348.3 578.6 349.6 579.7 350.7C580.7 351.6 581.9 352.4 583.1 353C584 353.4 585 353.8 586 353.8C586.9 353.9 587.9 353.7 588.6 353.2C589.5 352.6 590.2 351.6 590.7 350.7C591.2 349.8 591.4 348.7 591.5 347.7C591.6 346.6 591.4 345.5 591.1 344.4C590.7 342.9 590.1 341.5 589.4 340.2C588.7 338.8 587.8 337.5 586.9 336.4C585.9 335.2 585.1 333.8 583.7 333.2Z" stroke="#222" stroke-width="1.0" />
<path d="M578.9 334.9C580.6 335.3 582.4 335.2 583.9 336C585.5 336.9 586.7 338.3 587.7 339.7C588.7 341 589.4 342.4 589.8 343.9C590.3 345.4 590.5 347 590.3 348.6C590.1 349.8 589.2 350.8 588.7 351.9" stroke="#a8a8a8" stroke-width="0.8" />
<path d="M583.7 333.2L590.3 332.2C591.7 333.6 593.3 334.8 594.5 336.4C595.4 337.6 596.1 339.1 596.4 340.6C596.7 342.1 596.3 343.7 596.2 345.2L591.5 347.9" stroke="#222" stroke-width="1.0" />
<path d="M590.7 341.2L593.7 340.4" stroke="#a8a8a8" stroke-width="0.8" />
<ellipse cx="582.3" cy="343.7" rx="3.7" ry="4.5" transform="rotate(-20 582.3 343.7)"   stroke-width="1.4" stroke="#c6c6c6" />
<path d="M581.2 339.4C581.8 339.6 582.6 339.6 583.1 339.9C583.8 340.4 584.2 341.3 584.8 341.9" stroke="#222" stroke-width="1.0" />
<path d="M585.4 344.6L585.8 345.6" stroke="#222" stroke-width="1.0" />
<path d="M613.6 442.9C611 443.1 608.4 443.7 605.8 443.7C603.5 443.6 601.3 443.4 599.1 442.8C597.5 442.4 596.1 441.4 594.7 440.7C587.2 436.8 579.8 433 572.4 428.9C564.2 424.3 556.1 419.4 548 414.4C545.7 413.1 543.6 411.5 541.3 410C539.7 408.9 537.7 408.1 536.3 406.7C535.5 405.8 534.8 404.6 534.7 403.3C534.5 401.6 535.1 400 535.6 398.3C535.9 396.9 536.4 395.5 537.1 394.2C537.5 393.4 538.2 392.8 538.8 392.1C544.4 391.6 550.1 391.1 555.8 390.7C561.3 390.2 566.9 389.7 572.4 389.4C574.3 389.4 576.2 389.4 578 389.8C579.9 390.2 581.8 390.9 583.6 391.7C585.8 392.7 588.1 393.8 590.2 395.1C595.5 398.2 600.5 401.8 605.8 404.9C609.4 407 613.2 408.8 616.9 410.9C624.4 415.2 631.7 419.6 639.1 424C640.8 425 642.6 425.9 644.1 427.2C644.9 427.9 645.7 428.7 645.8 429.7C646 431.6 645.4 433.6 644.9 435.6C644.6 436.7 644.3 438 643.6 438.9C642.9 439.7 641.8 440.2 640.8 440.6C639.7 440.9 638.6 441 637.4 441C636.5 441 635.6 440.7 634.7 440.6" stroke="#222" stroke-width="1.0" />
<path d="M608.2 405.8C609.6 406.2 611.1 406.3 612.4 407C613.8 407.7 614.8 408.9 616 409.8" stroke="#000" stroke-width="1.5" />
<path d="M538.8 392.4C538.6 393.5 537.7 394.7 538.2 395.6C539.1 397 541 397.4 542.4 398.3C548.7 402.3 555 406.2 561.3 410C572.4 416.6 583.5 423.2 594.7 429.7C596.1 430.5 597.5 431.4 599.1 431.8C602.8 432.7 606.5 433.5 610.2 433.4C616.2 433.4 622.1 432 628 431.3C633.3 430.7 638.5 430.1 643.8 429.6" stroke="#a8a8a8" stroke-width="0.8" />
<path d="M594.7 430.2L593.6 440" stroke="#a8a8a8" stroke-width="0.8" />
<path d="M610.2 433.4L608.2 442.4" stroke="#a8a8a8" stroke-width="0.8" />
<path d="M560.2 422.4C560 420.1 559.5 417.9 559.6 415.6C559.6 414.6 559.8 413.6 560.4 412.9C561 412.3 561.9 411.9 562.7 412C564 412.1 565.2 412.6 566.3 413.3C567.8 414.2 569.5 415.1 570.2 416.7C571.3 419.1 571 421.9 571.3 424.4" stroke="#a8a8a8" stroke-width="0.8" />
<ellipse cx="591.6" cy="411.3" rx="21.1" ry="8" transform="rotate(17 591.6 411.3)" stroke="#a8a8a8" stroke-width="0.8"  />
<path d="M610.6 416.3C610.5 417.2 610.9 418.1 610.5 418.8C610 419.6 609.1 420.2 608.2 420.5C607 421.1 605.5 421.3 604.2 421.4C602.3 421.5 600.5 421.4 598.6 421.2C596.5 420.9 594.4 420.6 592.3 420C590.2 419.5 588 418.8 585.9 418C584 417.3 582 416.4 580.2 415.4C578.6 414.5 577.1 413.6 575.7 412.4C574.6 411.6 573.7 410.6 573 409.5C572.5 408.7 572.6 407.7 572.4 406.8" stroke="#222" stroke-width="1.0" />
<ellipse cx="551.3" cy="397.2" rx="5.9" ry="2.3" transform="rotate(16 551.3 397.2)" stroke="#a8a8a8" stroke-width="0.8"  />
<path d="M556.9 399C556.7 399.2 556.6 399.5 556.4 399.6C556.1 399.8 555.8 399.9 555.5 400C555 400.1 554.6 400.1 554.1 400.1C553.6 400.1 553 400.1 552.5 400C551.9 399.9 551.3 399.7 550.7 399.6C550.1 399.4 549.6 399.2 549 399C548.5 398.8 548 398.5 547.6 398.2C547.2 398 546.8 397.7 546.5 397.4C546.2 397.2 546 396.9 545.9 396.6C545.8 396.4 545.8 396.1 545.8 395.9" stroke="#6a6a6a" stroke-width="0.85" />
<ellipse cx="578" cy="394.6" rx="5.9" ry="2.3" transform="rotate(16 578 394.6)" stroke="#a8a8a8" stroke-width="0.8"  />
<path d="M583.6 396.4C583.4 396.6 583.3 396.8 583.1 397C582.8 397.1 582.5 397.3 582.1 397.3C581.7 397.4 581.2 397.4 580.8 397.4C580.2 397.4 579.7 397.4 579.1 397.3C578.5 397.2 578 397.1 577.4 396.9C576.8 396.7 576.2 396.6 575.7 396.3C575.2 396.1 574.7 395.9 574.2 395.6C573.9 395.3 573.5 395.1 573.1 394.7C572.9 394.5 572.7 394.2 572.5 393.9C572.4 393.7 572.5 393.4 572.4 393.2" stroke="#6a6a6a" stroke-width="0.85" />
<ellipse cx="604.9" cy="428.3" rx="5.9" ry="2.3" transform="rotate(16 604.9 428.3)" stroke="#a8a8a8" stroke-width="0.8"  />
<path d="M610.4 430.1C610.3 430.3 610.2 430.6 610 430.7C609.7 430.9 609.4 431 609 431.1C608.6 431.2 608.1 431.2 607.7 431.2C607.1 431.2 606.6 431.2 606 431.1C605.4 431 604.8 430.9 604.3 430.7C603.7 430.5 603.1 430.3 602.6 430.1C602.1 429.9 601.6 429.6 601.1 429.3C600.7 429.1 600.4 428.8 600 428.5C599.8 428.3 599.6 428 599.4 427.7C599.3 427.5 599.4 427.2 599.3 427" stroke="#6a6a6a" stroke-width="0.85" />
<ellipse cx="631.9" cy="425.6" rx="5.9" ry="2.3" transform="rotate(16 631.9 425.6)" stroke="#a8a8a8" stroke-width="0.8"  />
<path d="M637.4 427.4C637.3 427.6 637.2 427.8 637 428C636.7 428.1 636.4 428.3 636 428.3C635.6 428.4 635.1 428.4 634.7 428.4C634.1 428.4 633.6 428.4 633 428.3C632.4 428.2 631.8 428.1 631.3 427.9C630.7 427.7 630.1 427.6 629.6 427.3C629.1 427.1 628.6 426.9 628.1 426.6C627.7 426.3 627.4 426.1 627 425.7C626.8 425.5 626.6 425.2 626.4 424.9C626.3 424.7 626.4 424.4 626.3 424.2" stroke="#6a6a6a" stroke-width="0.85" />
<path d="M616.9 434.7C619.9 434.1 622.8 433.4 625.8 433.1C628.8 432.8 632.4 430.9 634.9 432.7C636.9 434.1 635.1 437.6 635.2 440" stroke="#a8a8a8" stroke-width="0.8" />
<path d="M616.9 434.7C616 437.2 614.8 439.6 614.1 442.2C613.7 444 613.3 445.9 613.6 447.8C613.8 449.6 614.6 451.4 615.8 452.8C616.9 454.2 618.7 454.9 620.2 455.9" stroke="#a8a8a8" stroke-width="0.8" />
<path d="M620.8 436.9C623.2 436.1 625.5 435.1 628 434.7C629.8 434.3 631.7 434.5 633.6 434.4" stroke="#a8a8a8" stroke-width="0.8" />
<path d="M622.4 437.8C621.8 440.4 620.7 442.9 620.4 445.6C620.2 447.8 620.4 450.1 621.1 452.2C621.5 453.3 622.4 454.7 623.6 454.7C625.2 454.7 626.8 453.4 628 452.2C629.6 450.7 630.8 448.6 631.9 446.7C632.7 445.1 633.1 443.3 633.8 441.7" stroke="#a8a8a8" stroke-width="0.8" />
<path d="M601.3 444.4C604.3 445.6 607.1 448.4 610.2 448C612.2 447.7 612.3 444.6 613.3 442.9" stroke="#a8a8a8" stroke-width="0.8" />
<path d="M602.7 445.8C605.2 447.6 607.6 449.5 610.2 451.1C613.3 453 616.5 454.7 619.7 456.4" stroke="#a8a8a8" stroke-width="0.8" />
<path d="M691.6 442.1C691.4 439.3 690.8 436.6 691 433.8C691.2 430.4 691.7 427 692.7 423.8C693.5 421 694.8 418.5 696.2 416C697.8 413.3 699.5 410.5 701.8 408.2C703.6 406.4 705.9 404.9 708.2 403.8C709.6 403.1 711.2 402.8 712.7 403.1C713.8 403.4 714.9 404.4 715.4 405.4C716.3 407 716.5 408.7 716.7 410.4C716.8 412.3 716.5 414.1 716.4 416C716.4 417.3 716.5 418.6 716.6 419.9" stroke="#222" stroke-width="1.0" />
<path d="M693.8 443.2C693.6 440.1 693.1 436.9 693.3 433.8C693.6 430.7 694.2 427.6 695.1 424.7C695.9 422 697.1 419.5 698.4 417.1C699.8 414.6 701.4 412.2 703.3 410.1C704.9 408.4 706.8 407 708.9 406C710.4 405.3 712.1 405.6 713.8 405.3" stroke="#a8a8a8" stroke-width="0.8" />
<path d="M708.9 433.5C709.5 432.7 710.1 431.9 710.6 431C711.1 429.8 711.3 428.4 711.8 427.2C712.2 426.3 712.4 425.3 713.1 424.7C714.2 423.7 715.5 423.1 716.9 422.6C717.7 422.3 718.6 422.2 719.4 422.4C720.5 422.6 721.5 423 722.4 423.6C723.3 424.3 724.2 425 724.9 425.9C725.5 426.8 725.9 427.8 725.9 428.9C726 430.2 725.8 431.5 725.4 432.7C725 433.9 724.3 435 723.6 436C722.9 437.1 722.1 438.2 721.1 439C720.1 439.8 719 440.5 717.7 440.7C716.7 440.8 715.7 440.3 714.8 439.8C714 439.5 713.3 439 712.7 438.4C711.9 437.5 711.3 436.5 710.6 435.6C710 434.9 709.5 434.2 708.9 433.5" stroke="#222" stroke-width="1.0" />
<path d="M721.9 429.1C721.2 429.7 720.4 430.2 719.8 431C719.3 431.7 718.9 432.6 718.8 433.5C718.7 434.4 719.2 435.2 719.4 436" stroke="#222" stroke-width="1.0" />
<path d="M722.4 429.3C722.8 429.6 723.5 429.7 723.6 430.2C723.8 431 723.6 431.9 723.3 432.7C723 433.5 722.4 434.1 721.9 434.8" stroke="#a8a8a8" stroke-width="0.8" />
<path d="M713.9 427.2L717.3 428L721.9 425.1" stroke="#a8a8a8" stroke-width="0.8" />
<path d="M717.3 428L716.5 433.5L715.2 436.5L712.7 435.2" stroke="#a8a8a8" stroke-width="0.8" />
<path d="M716.5 433.5L715.6 438.6" stroke="#a8a8a8" stroke-width="0.8" />
<path d="M716 413.3C716.1 414.7 716.1 416.1 716.2 417.5C716.2 418 716.1 418.6 716.5 418.9C716.8 419.2 717.5 419 717.9 419.2C718.7 419.6 719.6 419.9 720.3 420.5C720.8 420.9 721.2 421.6 721.6 422.2" stroke="#222" stroke-width="1.0" />
<path d="M708.9 433.5C708.2 433.9 707.3 434.1 706.8 434.8C706.1 435.7 705.5 436.8 705.3 437.9C705.2 438.4 705.9 438.6 706.2 439" stroke="#222" stroke-width="1.0" />
<path d="M707.2 437.3L708.1 435.6" stroke="#222" stroke-width="1.0" />
<path d="M713.5 440.3C713 440.7 712.5 441.2 711.8 441.5C711.2 441.8 710.4 441.9 709.7 441.9C709.2 441.9 708.7 441.4 708.1 441.5C707.5 441.7 707.1 442.2 706.8 442.8C706.4 443.5 706.2 444.4 706.2 445.3C706.1 446.2 706.4 447 706.6 447.8C706.8 448.7 707.1 449.5 707.3 450.4" stroke="#222" stroke-width="1.0" />
<path d="M707.4 450.1C703.1 447.6 698.8 444.9 694.3 442.7C693.5 442.2 692.4 441.7 691.6 442.1C687.2 444 683.1 446.5 679.3 449.3C678.3 450.1 677.9 451.4 677.7 452.7C677.5 454 677.6 455.4 678.2 456.6C679 457.9 680.2 458.9 681.6 459.6C689.5 463.8 697.6 468 706 471.2C707.5 471.8 709.2 471.1 710.7 470.6C712.6 469.9 714.4 468.8 716.2 467.8C719.4 465.9 722.5 463.8 725.7 461.8" stroke="#222" stroke-width="1.0" />
<path d="M678.4 454.9C679.9 455.7 681.2 456.7 682.7 457.4C690.4 461.4 697.9 465.8 706 468.9C707.4 469.4 709.1 468.8 710.4 468.2C715.5 466 720.2 463 725.1 460.4" stroke="#a8a8a8" stroke-width="0.8" />
<ellipse cx="694.3" cy="452.4" rx="5.3" ry="3" transform="rotate(5 694.3 452.4)" stroke="#222" stroke-width="1.0"  />
<ellipse cx="694.6" cy="453.3" rx="4" ry="1.9" transform="rotate(5 694.6 453.3)" stroke="#a8a8a8" stroke-width="0.8"  />
<ellipse cx="703.8" cy="457.1" rx="2.4" ry="1.3" transform="rotate(5 703.8 457.1)" stroke="#222" stroke-width="1.0"  />
<path d="M707.4 450.1L762.7 480.4" stroke="#222" stroke-width="1.0" />
<path d="M708.2 450.6L726.2 460.4" stroke="#000" stroke-width="1.5" />
<path d="M706 471.3L736.9 489.6" stroke="#222" stroke-width="1.0" />
<path d="M725.6 461.8C726.2 462.8 726.9 463.8 727.2 465C727.6 466.4 727.3 467.8 727.6 469.2C728 470.7 728.5 472.2 729.3 473.4C730.3 474.9 731.7 476.1 733.1 477.2C734.4 478.3 736.2 478.8 737.3 480.2C738.1 481.1 738 482.4 738.4 483.5C738.7 484.7 739.1 485.8 739.4 487" stroke="#222" stroke-width="1.0" />
<path d="M723.8 462.7C724.2 463.5 724.7 464.2 724.9 465C725.3 466.8 725.1 468.7 725.5 470.5C726 472.2 726.6 474 727.6 475.5C728.7 477.1 730.4 478.1 731.8 479.3C732.9 480.3 734.4 481 735.2 482.3C735.9 483.4 735.9 484.8 736.3 486" stroke="#a8a8a8" stroke-width="0.8" />
<path d="M737.7 489.4C738.3 489.7 738.8 490.4 739.4 490.3C740.4 490.2 741.1 489.3 741.9 488.9C742.3 488.7 742.7 488.4 743 488.6C745.7 489.8 748.2 491.5 750.8 493L729.4 506.5" stroke="#222" stroke-width="1.0" />
<path d="M740.7 486.5C741.9 486.5 743.3 486 744.5 486.5C746.9 487.5 749 489.3 751.2 490.8" stroke="#a8a8a8" stroke-width="0.8" />
<path d="M737.6 479.1C737.7 478.8 737.7 478.5 737.8 478.3C738 478 738.2 477.7 738.5 477.5C738.8 477.2 739.1 477 739.5 476.9C739.9 476.7 740.3 476.6 740.7 476.5C741.2 476.4 741.7 476.4 742.1 476.4C742.6 476.4 743.1 476.4 743.6 476.5C744 476.6 744.4 476.7 744.8 476.9C745.2 477 745.5 477.2 745.8 477.5C746.1 477.7 746.3 478 746.5 478.3C746.6 478.5 746.6 478.8 746.7 479.1" stroke="#a8a8a8" stroke-width="0.8" stroke-dasharray="2 1.2"/>
<path d="M746.7 479.1C746.6 479.4 746.6 479.7 746.5 479.9C746.3 480.2 746.1 480.5 745.8 480.7C745.5 481 745.2 481.2 744.8 481.3C744.4 481.5 744 481.6 743.6 481.7C743.1 481.8 742.6 481.8 742.1 481.8C741.7 481.8 741.2 481.8 740.7 481.7C740.3 481.6 739.9 481.5 739.5 481.3C739.1 481.2 738.8 481 738.5 480.7C738.2 480.5 738 480.2 737.8 479.9C737.7 479.7 737.7 479.4 737.6 479.1" stroke="#222" stroke-width="1.0" />
<path d="M742.1 477.6L742.1 481.1" stroke="#222"  stroke-width="1.4"/>
<path d="M739.8 479.7L744.5 479.9" stroke="#222" stroke-width="1.0" />
<path d="M729.4 506.4C728.5 506.6 727.5 506.5 726.7 507C723.2 509 719.6 510.9 716.7 513.7C715.3 514.9 714.8 516.9 714.4 518.7C713.7 522.3 713.6 526.1 713.4 529.8C713.4 532 713.5 534.2 713.9 536.4C714 537.3 714.6 538 715 538.8" stroke="#222" stroke-width="1.0" />
<path d="M714.4 518.7C712.2 520 709.7 520.9 707.8 522.7C706.4 523.9 705.5 525.7 705.1 527.6C704.7 529.4 704.8 531.4 705.6 533.1C706.3 534.9 707.8 536.5 709.4 537.6C711.1 538.5 713.1 538.4 715 538.8C722.8 534.1 730.9 530.1 738.3 524.9C739.5 524.1 740.1 522.5 740.1 521.1C740.1 520.2 739.3 519.3 738.4 518.8C737.1 518 735.3 518.4 734 517.6C733.3 517.1 733 516.1 732.8 515.3C732.3 513.5 732.4 511.5 731.8 509.8C731.3 508.5 730.2 507.6 729.4 506.4" stroke="#222" stroke-width="1.0" />
<path d="M716.7 519.8C716.4 523.1 715.9 526.4 715.8 529.8C715.7 532 716.1 534.2 716.2 536.4" stroke="#a8a8a8" stroke-width="0.8" />
<path d="M707.8 524.2C707.5 526.1 706.6 527.9 706.9 529.8C707.2 531.8 708.1 533.8 709.4 535.3C710.5 536.5 712.4 536.7 713.9 537.3" stroke="#a8a8a8" stroke-width="0.8" />
<ellipse cx="738.3" cy="509.8" rx="4.4" ry="2.8" transform="rotate(0 738.3 509.8)" stroke="#a8a8a8" stroke-width="0.8"  />
<path d="M742.8 510C742.7 510.3 742.7 510.6 742.6 510.9C742.4 511.2 742.2 511.4 741.9 511.6C741.6 511.9 741.3 512.1 740.9 512.2C740.6 512.4 740.1 512.6 739.7 512.6C739.3 512.7 738.8 512.8 738.3 512.8C737.9 512.8 737.4 512.7 737 512.6C736.5 512.6 736.1 512.4 735.7 512.2C735.4 512.1 735 511.9 734.7 511.6C734.5 511.4 734.3 511.2 734.1 510.9C734 510.6 734 510.3 733.9 510" stroke="#222" stroke-width="1.0" />
<path d="M740.1 520.6L760.6 509.9C761.1 510.1 761.6 510.7 762.2 510.6C763 510.4 763.5 509.7 764.1 509.2C772.4 504.7 780.9 500.5 788.9 495.6C789.6 495.1 789.6 494.1 789.8 493.3C790 492.5 790.1 491.7 790.2 490.9L815.6 476" stroke="#222" stroke-width="1.0" />
<path d="M740.7 517.8L760 507.6" stroke="#a8a8a8" stroke-width="0.8" />
<path d="M762.8 480.3C762.4 482 761.9 483.6 761.7 485.3C761.2 489 761 492.7 760.9 496.4C760.8 499.4 760.8 502.4 761.1 505.3C761.3 506.9 761.9 508.4 762.2 510" stroke="#222" stroke-width="1.0" />
<path d="M762.8 480.3C764.1 478.9 765.2 477.2 766.7 475.9C768.4 474.4 770.3 473.2 772.2 472C775.8 469.8 779.5 467.7 783.3 465.9C784.4 465.4 785.6 465 786.7 465.3C787.7 465.6 788.3 466.7 788.9 467.6C789.4 468.2 789.6 469 790 469.8" stroke="#222" stroke-width="1.0" />
<path d="M765.1 481.1C764.8 482.9 764.3 484.6 764.1 486.4C763.8 489.8 763.6 493.1 763.6 496.4C763.5 499.4 763.6 502.4 763.8 505.3C763.8 506.5 764.1 507.7 764.2 508.9" stroke="#222" stroke-width="1.0" />
<path d="M765.6 481.1C766.5 479.9 767.2 478.6 768.3 477.6C769.8 476.2 771.6 475.1 773.3 474C776.8 471.9 780.3 469.9 783.9 468.1C784.7 467.7 785.6 467.3 786.4 467.6C787.2 467.8 787.5 468.7 788 469.2" stroke="#a8a8a8" stroke-width="0.8" />
<path d="M790 469.8C790.4 469.7 790.8 469.6 791.1 469.4C794.1 467.6 797 465.6 800 463.7" stroke="#222" stroke-width="1.0" />
<path d="M791.7 471.9L800 466.1" stroke="#a8a8a8" stroke-width="0.8" />
<path d="M800 463.4C801.1 462.7 802.1 461.8 803.4 461.3C804.7 460.8 806.1 460.4 807.6 460.3C808.7 460.2 809.8 460.4 810.9 460.7C814.1 461.5 817.1 462.7 820.2 463.6C823.3 464.6 826.4 465.3 829.5 466.4C831.2 467 832.9 467.8 834.5 468.9C835.5 469.5 836.3 470.4 837 471.4C837.4 471.9 837.6 472.5 837.5 473.1C837.5 473.9 837.1 474.6 836.6 475.2C836.2 475.7 835.5 475.7 834.9 476C834.7 476.2 834.5 476.4 834.3 476.5" stroke="#222" stroke-width="1.0" />
<path d="M824 468.7C825.8 469.2 827.7 469.4 829.5 470.2C830.7 470.7 831.8 471.7 832.8 472.7C833.4 473.3 834 474 834.3 474.8C834.5 475.3 834.4 476 834.5 476.5" stroke="#222"  stroke-width="1.3"/>
<path d="M800 466.4C801.4 465.5 802.7 464.4 804.2 463.8C805.5 463.3 807 462.9 808.4 463.2C813 464.1 817.4 466 821.9 467.4" stroke="#a8a8a8" stroke-width="0.8" />
<path d="M807.2 465.1L815.6 472.7" stroke="#a8a8a8" stroke-width="0.8" />
<path d="M821.9 467.6C821.3 468 820.8 468.6 820.2 468.9C819.4 469.2 818.4 469 817.7 469.5C816.9 470.1 816.5 471 816.2 471.8C815.8 472.8 815.5 473.8 815.6 474.8C815.6 475.7 815.9 476.6 816.4 477.3C817.1 478.2 818 478.9 818.9 479.4C820.4 480.2 822 480.7 823.6 481.1C825.5 481.5 827.5 481.9 829.5 481.8C830.5 481.7 831.5 481.3 832.4 480.7C833 480.3 833.5 479.7 833.7 479C833.9 478.3 833.4 477.6 833.5 476.9C833.6 476.5 834 476.3 834.3 476" stroke="#222" stroke-width="1.0" />
<path d="M820.6 469.3L820.2 474.4L818.1 475.6" stroke="#a8a8a8" stroke-width="0.8" />
<path d="M820.2 474.4L829.5 476.9L829.9 473.1" stroke="#a8a8a8" stroke-width="0.8" />
<path d="M829.5 476.9L832.4 480.3" stroke="#a8a8a8" stroke-width="0.8" />
<path d="M820.2 476.9L827.4 479" stroke="#a8a8a8" stroke-width="0.8" />
<path d="M711.3 411.4C711.7 411.6 712.3 411.6 712.4 412C712.6 412.6 712.5 413.3 712.1 413.8C710.6 415.7 709 417.5 707.1 418.9C706.7 419.2 706.1 419 705.7 418.7C705.4 418.5 705.5 418 705.4 417.7" stroke="#a8a8a8" stroke-width="0.8" />
<path d="M705.8 417.5L711.3 411.4" stroke="#222"  stroke-width="1.5"/>
<path d="M711.5 419.6C711.9 419.8 712.5 419.8 712.6 420.2C712.8 420.8 712.7 421.5 712.3 422C710.8 423.9 709 425.7 707.1 427.1C706.7 427.4 706.1 427.2 705.7 426.9C705.4 426.7 705.5 426.2 705.4 425.9" stroke="#a8a8a8" stroke-width="0.8" />
<path d="M705.8 425.7L711.5 419.6" stroke="#222"  stroke-width="1.5"/>
<path d="M727.2 514.2C727.6 514.4 728.2 514.4 728.3 514.8C728.5 515.4 728.5 516.2 728 516.6C726.2 518.1 724 519.2 721.9 520.1C721.5 520.3 720.9 520.2 720.5 519.9C720.2 519.7 720.3 519.2 720.2 518.9" stroke="#a8a8a8" stroke-width="0.8" />
<path d="M720.6 518.7L727.2 514.2" stroke="#222"  stroke-width="1.5"/>
<path d="M727.2 523.3C727.6 523.5 728.2 523.5 728.3 523.9C728.5 524.5 728.4 525.3 728 525.7C726.2 527.4 724.1 528.9 721.9 530.1C721.5 530.3 720.9 530.2 720.5 529.9C720.2 529.7 720.3 529.2 720.2 528.9" stroke="#a8a8a8" stroke-width="0.8" />
<path d="M720.6 528.7L727.2 523.3" stroke="#222"  stroke-width="1.5"/>
<path d="M779.2 475.8C779.6 476 780.2 476 780.3 476.4C780.5 477 780.5 477.8 780 478.2C778.3 479.6 776.2 480.5 774.1 481.4C773.7 481.6 773.1 481.5 772.7 481.2C772.4 481 772.5 480.5 772.4 480.2" stroke="#a8a8a8" stroke-width="0.8" />
<path d="M772.8 480L779.2 475.8" stroke="#222"  stroke-width="1.5"/>
<path d="M779.2 484.3C779.6 484.5 780.2 484.5 780.3 484.9C780.5 485.5 780.5 486.3 780 486.7C778.3 488.1 776.2 489.1 774.1 490C773.7 490.2 773.1 490.1 772.7 489.8C772.4 489.6 772.5 489.1 772.4 488.8" stroke="#a8a8a8" stroke-width="0.8" />
<path d="M772.8 488.6L779.2 484.3" stroke="#222"  stroke-width="1.5"/>
<path d="M737.2 433C737.6 432.2 737.8 431.1 738.5 430.4C739 429.8 739.8 429.5 740.6 429.4C741.7 429.2 742.9 429.1 743.9 429.4C744.8 429.6 745.5 430.2 746 430.8C746.6 431.5 746.9 432.4 747.3 433.2" stroke="#222" stroke-width="1.0" />
<path d="M737.2 433C736.6 433.4 735.9 433.6 735.5 434.2C735.1 434.7 734.9 435.5 735 436.1C735.2 437 735.7 438 736.4 438.6C737.2 439.4 738.3 439.8 739.3 440.1C740.2 440.4 741.2 440.4 742.1 440.4C743.2 440.4 744.2 440.4 745.2 440.1C746.2 439.8 747.2 439.3 747.9 438.6C748.6 438 749.1 437 749.3 436.1C749.4 435.5 749.2 434.7 748.8 434.2C748.4 433.7 747.8 433.5 747.3 433.2" stroke="#222" stroke-width="1.0" />
<path d="M738.5 433.4C739.7 433.8 740.9 434.6 742.3 434.6C743.6 434.6 744.8 433.8 746 433.4" stroke="#a8a8a8" stroke-width="0.8" />
<path d="M738.9 433.7L739.3 437.7" stroke="#a8a8a8" stroke-width="0.8" />
<path d="M745.2 433.9L744.8 437.7" stroke="#a8a8a8" stroke-width="0.8" />
<path d="M742.3 434.6L742.3 438.1" stroke="#a8a8a8" stroke-width="0.8" />
<path d="M738.3 440.5C738.4 441.8 738.2 443.1 738.5 444.3C738.8 445.3 739.2 446.3 739.9 447C740.5 447.6 741.3 448.1 742.1 448.1C742.9 448.1 743.8 447.6 744.4 447C745.1 446.3 745.5 445.3 745.7 444.3C746 443 745.8 441.7 745.9 440.4" stroke="#222" stroke-width="1.0" />
<path d="M740.6 442.2L740.1 446.6" stroke="#a8a8a8" stroke-width="0.8" />
<path d="M743.9 442.2L744.2 446.4" stroke="#a8a8a8" stroke-width="0.8" />
<path d="M741 445.2L743.2 445.4" stroke="#a8a8a8" stroke-width="0.8" />
<path d="M811.6 351.5L817.7 349.3L822.2 344.3L824.3 340.2L826.4 343.7L824.8 348.2L821.2 352.3L816.2 354.4L811.6 353.4Z" fill="#d4d4d4" stroke="none"/>
<path d="M802.1 337.6C802.3 336.5 802.9 335.6 803.6 334.6C804.5 333.3 805.6 332.1 806.6 330.8C807.6 329.6 808.4 328.1 809.6 327.1C810.4 326.3 811.4 325.8 812.4 325.5C813 325.4 813.8 325.6 814.4 325.8C815.9 326.6 817.4 327.5 818.7 328.6C819.4 329.2 819.9 330 820.2 330.8C820.4 331.4 820.4 332 820.2 332.6C819.9 333.5 819.2 334.3 818.7 335.1C817.9 336.3 817 337.3 816.2 338.4C815.3 339.5 814.6 340.7 813.6 341.7C812.9 342.3 812.1 342.9 811.1 343.2C810.3 343.4 809.4 343.5 808.6 343.2C807 342.6 805.6 341.6 804.1 340.7C803.5 340.3 802.8 340 802.4 339.4C802 338.9 801.9 338.2 802.1 337.6Z" stroke="#222"  stroke-width="1.15"/>
<path d="M805.1 338.1C805.6 336.8 806.8 335.7 807.6 334.5C808.4 333.3 809.1 331.9 810.1 330.8C810.8 330 811.6 329.2 812.6 328.9C813.3 328.7 814.1 329 814.8 329.4C815.7 329.9 816.5 330.5 817.2 331.3C817.5 331.7 817.7 332.3 817.5 332.7C816.9 334 815.9 335 815.1 336.1C814.2 337.3 813.6 338.6 812.6 339.7C812.1 340.3 811.4 340.9 810.6 341.2C810 341.4 809.2 341.1 808.6 340.9C807.6 340.6 806.5 340.1 805.7 339.5C805.3 339.2 804.9 338.6 805.1 338.1Z" stroke="#6a6a6a" stroke-width="0.85" />
<path d="M808.6 336.6L814.7 339.2" stroke="#a8a8a8" stroke-width="0.8" />
<path d="M810.1 334.1L816.2 336.4" stroke="#a8a8a8" stroke-width="0.8" />
<path d="M811.6 332.6L807.6 339.2" stroke="#a8a8a8" stroke-width="0.8" />
<path d="M814.4 333.4L810.9 340.2" stroke="#a8a8a8" stroke-width="0.8" />
<path d="M812.6 331.1L809.6 335.1" stroke="#a8a8a8" stroke-width="0.8" />
<path d="M802.6 340.2C802.6 341.8 802.3 343.5 802.6 345.2C802.8 346.6 803.2 348 803.8 349.2C804.6 350.7 805.5 352.1 806.6 353.3C807.8 354.6 809.2 355.8 810.6 356.8C811.7 357.6 812.9 358.3 814.2 358.6C815.5 358.9 816.9 358.7 818.2 358.3C819.6 357.9 821 357.2 822.2 356.3C823.6 355.3 824.8 354.1 825.7 352.8C826.7 351.4 827.5 349.8 828 348.2C828.5 346.8 828.7 345.2 828.7 343.7C828.6 342.3 828.3 340.9 827.8 339.7C827.3 338.6 826.6 337.7 825.7 336.9C825 336.2 824 335.9 823.2 335.4C822.5 334.9 821.9 334.3 821.2 333.7" stroke="#222" stroke-width="1.0" />
<path d="M805.3 346.2C806.3 346.9 807.1 347.7 808.1 348.2C809.2 348.9 810.4 349.6 811.6 349.7C812.5 349.8 813.4 349.5 814.2 349C815.2 348.3 815.9 347.2 816.7 346.2C817.5 345.1 817.9 343.8 818.7 342.7C819.6 341.3 820.9 340.1 821.7 338.6C822.2 337.7 822.3 336.6 822.5 335.6" stroke="#222"  stroke-width="1.45"/>
<path d="M805.8 347.2C807.3 348.3 808.5 349.7 810.1 350.3C811.2 350.8 812.5 350.8 813.6 350.5C814.7 350.3 815.5 349.3 816.4 348.7" stroke="#6a6a6a" stroke-width="0.85" />
<path d="M804.1 348.2C804.9 349.6 805.5 351.1 806.6 352.3C807.9 353.5 809.5 354.6 811.1 355.3C812.7 355.9 814.5 356.5 816.2 356.3C818 356.1 819.7 355.3 821.2 354.3C822.8 353.1 824.2 351.5 825.2 349.7C826.3 348.1 827 346.1 827.3 344.2C827.5 342.9 826.9 341.5 826.8 340.2" stroke="#6a6a6a" stroke-width="0.85" />
<path d="M811.6 351.5C813.6 350.8 815.9 350.5 817.7 349.3C819.5 348.1 820.9 346.1 822.2 344.3C823.1 343 823.6 341.5 824.3 340.2" stroke="#a8a8a8" stroke-width="0.8" />
<path d="M816.4 342.8L818 343.8" stroke="#222"  stroke-width="0.9"/>
<path d="M816.7 344L817.7 342.6" stroke="#222"  stroke-width="0.9"/>
<path d="M818.5 340.3L820.1 341.3" stroke="#222"  stroke-width="0.9"/>
<path d="M818.8 341.5L819.8 340.1" stroke="#222"  stroke-width="0.9"/>
<path d="M820.5 338.1L822.1 339.2" stroke="#222"  stroke-width="0.9"/>
<path d="M820.8 339.4L821.8 337.9" stroke="#222"  stroke-width="0.9"/>
<path d="M803 376.1C803.2 375.1 803.1 374 803.6 373.1C804.1 372.2 804.7 371.3 805.6 370.8C806.7 370.3 807.9 370 809.2 370C810.9 370.1 812.6 370.7 814.2 371.3C815.6 371.9 817 372.6 818.2 373.6C819 374.2 819.7 375 819.8 375.9C820.1 377.3 819.6 378.7 819.5 380.1" stroke="#222" stroke-width="1.0" />
<path d="M802.9 376.1C804.1 376.2 805.4 376.3 806.6 376.4C807.8 376.6 809 376.9 810.2 377.2C811.4 377.5 812.5 377.9 813.7 378.4C815 378.9 816.1 379.7 817.5 380.1C818.1 380.3 818.8 380.2 819.5 380.2" stroke="#222" stroke-width="1.0" />
<path d="M807.4 372.6L807.1 375.2" stroke="#a8a8a8" stroke-width="0.8" />
<path d="M815.2 374.1L814.9 376.7" stroke="#a8a8a8" stroke-width="0.8" />
<path d="M802.1 377C801.5 377.5 800.7 377.9 800.4 378.6C800.2 379.1 800.5 379.8 800.9 380.1C802 381.1 803.4 381.7 804.6 382.4" stroke="#222" stroke-width="1.0" />
<path d="M802.7 378.2C803 378.8 803.1 379.4 803.5 379.9C804 380.5 804.6 381 805.1 381.5" stroke="#a8a8a8" stroke-width="0.8" />
<path d="M819.5 380.1C819.6 380.9 820 381.6 819.8 382.4C819.7 383.2 819.2 384 818.5 384.5C817.8 385 816.7 385 815.8 385C815.1 384.9 814.4 384.4 813.7 384.2" stroke="#222" stroke-width="1.0" />
<path d="M805.1 379.2C806.8 379.4 808.5 379.2 810.2 379.7C811.8 380.2 813.2 381.3 814.7 382.1" stroke="#a8a8a8" stroke-width="0.8" />
<path d="M805.1 382.4L801.3 395.2" stroke="#222" stroke-width="1.0" />
<path d="M813.7 384L810.4 397.6" stroke="#222" stroke-width="1.0" />
<path d="M801.3 395.2C801.9 395.8 802.4 396.6 803.1 397.1C804.2 397.7 805.4 398 806.6 398.3C807.5 398.5 808.3 398.7 809.2 398.6C809.7 398.5 810 397.9 810.4 397.6" stroke="#222" stroke-width="1.0" />
<path d="M803.9 394.2C804.6 394.5 805.4 394.8 806.1 395C806.8 395.2 807.5 395.4 808.2 395.5" stroke="#a8a8a8" stroke-width="0.8" />
<path d="M828.3 396.9C828.7 395.3 828.7 393.5 829.6 392.1C830.4 390.7 831.7 389.6 833.1 388.8C834.6 388 836.4 387.5 838.1 387.5C839.7 387.4 841.3 387.9 842.7 388.6C844.1 389.3 845.3 390.4 846.2 391.6C847.1 392.8 847.6 394.2 848.2 395.6C848.6 396.5 848.8 397.4 849 398.2" stroke="#222" stroke-width="1.0" />
<path d="M828.3 396.9C828.9 398.3 829.2 399.9 830.1 401.2C831.2 402.7 832.5 404.2 834.1 405.2C835.6 406.1 837.4 406.6 839.2 406.5C840.9 406.4 842.7 405.6 844.2 404.7C845.6 403.8 846.7 402.5 847.7 401.2C848.4 400.3 848.6 399.2 849 398.2" stroke="#a8a8a8" stroke-width="0.8" />
<ellipse cx="838.1" cy="397" rx="6.6" ry="6" transform="rotate(0 838.1 397)" stroke="#a8a8a8" stroke-width="0.8"  />
<path d="M844.7 397.2C844.6 397.9 844.7 398.5 844.5 399.2C844.3 399.8 844.1 400.4 843.7 400.9C843.3 401.4 842.8 401.9 842.3 402.3C841.8 402.7 841.1 402.9 840.5 403.1C839.9 403.3 839.2 403.4 838.5 403.4C837.9 403.4 837.2 403.2 836.6 403C835.9 402.8 835.3 402.4 834.8 402C834.3 401.6 833.9 401.1 833.6 400.5C833.2 400 833.1 399.3 832.9 398.7" stroke="#222" stroke-width="1.0" />
<path d="M832.9 398.7C832.9 398.1 832.8 397.5 832.9 396.9C833 396.3 833.2 395.7 833.5 395.2C833.7 394.6 834.1 394.1 834.6 393.7C835 393.3 835.6 392.9 836.1 392.7C836.7 392.4 837.3 392.2 838 392.1C838.6 392.1 839.3 392.1 839.9 392.2C840.5 392.3 841.1 392.5 841.7 392.8C842.2 393.1 842.7 393.5 843.2 394C843.6 394.4 843.9 394.9 844.2 395.5C844.5 396 844.5 396.7 844.7 397.2" stroke="#a8a8a8" stroke-width="0.8" />
<path d="M836.6 393.7L839.2 400.2" stroke="#6a6a6a" stroke-width="0.85" />
<path d="M839.2 396.6L837.1 400.2" stroke="#a8a8a8" stroke-width="0.8" />
<path d="M828.3 397.1C828.9 399.2 829.5 401.2 830.1 403.2C830.8 405.5 831.6 407.9 832.3 410.2C832.8 411.6 833.2 412.9 833.6 414.3L835.1 415.9L843.7 419.4L846.2 418.8L853.3 413.3C853.4 410.9 853.8 408.6 853.6 406.2C853.4 404.6 852.9 403.1 852.3 401.7C851.8 400.7 851 400 850.2 399.3C849.9 398.9 849.4 398.6 849 398.2" stroke="#222" stroke-width="1.0" />
<path d="M849.2 398.6C850.4 399.8 851.9 400.7 852.8 402.2C853.4 403.4 853.3 404.9 853.6 406.2" stroke="#222"  stroke-width="1.5"/>
<path d="M846.2 418.8L850.3 415.7" stroke="#222"  stroke-width="1.5"/>
<path d="M834.6 412.9L843.2 415.4L852.8 409.8" stroke="#a8a8a8" stroke-width="0.8" />
<path d="M843.2 415.4L843.7 419.3" stroke="#a8a8a8" stroke-width="0.8" />
<path d="M843.7 440.1C843.7 438.8 843.5 437.6 843.7 436.3C843.9 434.9 844.3 433.5 844.9 432.2C845.7 430.7 846.6 429.2 847.8 428C849 426.9 850.5 426 852 425.5C853.6 425 855.4 424.8 857 425.1C858.8 425.4 860.6 426.1 862 427.2C863.7 428.5 865 430.3 866.2 432.2C867.3 434 868.2 435.9 868.7 438C869.1 439.6 869.2 441.4 868.8 443C868.4 444.8 867.4 446.6 866.2 448C864.8 449.5 863.1 450.7 861.2 451.3C859.3 452 857.3 452.1 855.3 451.8C851.9 451.4 848.7 450.1 845.3 449.3C839.8 448 834.2 446.9 828.7 445.5C827.5 445.2 826.3 445 825.3 444.2C824.5 443.6 823.8 442.7 823.7 441.8C823.5 440.6 823.9 439.4 824.5 438.4C825 437.6 825.8 436.8 826.8 436.8C832.5 437.3 838 439 843.7 440.1" stroke="#222" stroke-width="1.0" />
<path d="M825.3 439.2C832.7 440.5 840.1 441.7 847.4 443.1C849.5 443.5 851.5 444.5 853.7 444.8C855.3 444.9 857.1 444.8 858.7 444.3C860.2 443.9 861.7 443.3 862.8 442.2C863.9 441.1 864.6 439.5 865 438C865.3 436.8 865.3 435.4 864.7 434.3C863.9 433.2 862.5 432.6 861.2 432.2C859.6 431.7 857.8 431.5 856.2 431.8C854.6 432 853.2 432.8 852 433.8C850.6 435 849.5 436.4 848.7 438C847.9 439.6 847.8 441.4 847.4 443.1" stroke="#222" stroke-width="1.0" />
<path d="M828.2 443C828.6 442 830.1 441.9 831.2 442C833.2 442.1 835.2 442.7 837 443.5C837.7 443.8 838.9 444.4 838.7 445.2C838.4 446 837 446.1 836.2 446C834.2 445.9 832.2 445.4 830.3 444.7C829.5 444.4 828 443.8 828.2 443Z" stroke="#222"  stroke-width="1.3"/>
<path d="M866.1 482.1C866.5 481 866.7 479.8 867.3 478.9C868.1 477.8 869.2 477 870.1 476.1C871.5 475.5 872.7 474.6 874.2 474.4C875.6 474.1 877.2 474.5 878.7 474.6C879.9 475.2 881.3 475.6 882.2 476.6C883 477.4 883.3 478.6 883.8 479.6C884.3 481.5 884.8 483.3 885.2 485.2C885.4 485.8 885.6 486.5 885.7 487.2C884.9 488.5 884.3 490 883.2 491.2C882.2 492.4 880.9 493.2 879.7 494.2C878.4 494.2 877 494.2 875.7 494C874 493.8 872.3 493.4 870.6 493C870 491.9 869.2 490.9 868.6 489.7C867.9 488.2 867.4 486.7 866.8 485.2C866.5 484.2 866.3 483.1 866.1 482.1Z" stroke="#222" stroke-width="1.0" />
<ellipse cx="875.2" cy="481.9" rx="7" ry="6.8" transform="rotate(0 875.2 481.9)" stroke="#222" stroke-width="1.0"  />
<ellipse cx="875.2" cy="482" rx="5.2" ry="5" transform="rotate(0 875.2 482)" stroke="#a8a8a8" stroke-width="0.8"  />
<path d="M879.1 483.3C878.9 483.7 878.8 484.2 878.6 484.6C878.4 484.9 878.1 485.3 877.8 485.6C877.5 485.9 877.1 486.1 876.7 486.3C876.3 486.5 875.8 486.6 875.4 486.6C875 486.7 874.5 486.7 874.1 486.6C873.6 486.5 873.2 486.3 872.8 486.1C872.4 485.9 872 485.6 871.7 485.3C871.4 485 871.2 484.6 871 484.2C870.8 483.8 870.8 483.4 870.7 483" stroke="#222" stroke-width="1.0" />
<path d="M870.1 490.8L878.7 491.5L885.2 487.3" stroke="#a8a8a8"  stroke-width="1.1"/>
<path d="M878.7 491.5L879.7 494.2" stroke="#a8a8a8" stroke-width="0.8" />
<path d="M865.8 481.1C865.9 481.6 866.1 482.1 866.2 482.6C866.4 483.2 866.5 483.8 866.7 484.4" stroke="#222"  stroke-width="1.3"/>
<path d="M874.2 474.3C875 474.2 875.8 474.1 876.7 474.2C877.4 474.2 878.2 474.4 878.9 474.6" stroke="#222"  stroke-width="1.2"/>
<path d="M883.3 492.2C884 493 885 493.6 885.4 494.7C885.8 495.7 885.8 496.9 885.5 498C885.1 499.2 884.3 500.3 883.3 501.2C882.1 502.2 880.6 502.6 879.2 503.3L839.2 519.3" stroke="#222" stroke-width="1.0" />
<path d="M875.8 495L836.7 511.4" stroke="#222" stroke-width="1.0" />
<path d="M875.8 495L877.2 497.5" stroke="#222" stroke-width="1.0" />
<path d="M836.7 511.6L837.1 509.8C836.4 509.3 835.8 508.5 835 508.3C833.6 508.1 832.2 508.5 830.8 508.7C829.4 508.8 828.1 509.1 826.7 509.3L823.3 511.5C823 512.7 822.6 513.8 822.2 515C821.9 516.2 821.6 517.3 821.2 518.5C821.9 520.2 822.4 522 823.3 523.5C824.2 525 825.6 526.2 826.7 527.5C828.9 527.3 831.2 527.4 833.3 526.9C835.2 526.5 836.9 525.5 838.8 524.8C839.3 523.6 840.1 522.3 840.5 521C840.8 520.3 840.7 519.4 840.8 518.7" stroke="#222" stroke-width="1.0" />
<path d="M826.7 509.3C826.2 511.8 825.1 514.3 825.4 516.8C825.7 519.2 826.8 521.6 828.3 523.5C829.6 525.1 831.7 525.8 833.3 526.9" stroke="#a8a8a8" stroke-width="0.8" />
<path d="M821.2 518.5L825.4 516.8" stroke="#a8a8a8" stroke-width="0.8" />
<path d="M835.6 521.9C835.3 521.8 834.9 521.7 834.6 521.5C834.3 521.3 833.9 521 833.7 520.6C833.3 520.2 833 519.7 832.8 519.2C832.5 518.7 832.3 518.1 832.1 517.5C831.9 516.9 831.8 516.3 831.7 515.7C831.6 515.1 831.6 514.6 831.6 514C831.6 513.5 831.7 513 831.8 512.5C832 512.1 832.1 511.8 832.4 511.5C832.6 511.2 832.9 511.1 833.1 510.9"   stroke-width="1.6" stroke="#c4c4c4"/>
<path d="M790.8 528.1L795.8 526.4L795 531.8L796.7 537.7L792.1 539.3L790 534.3Z" fill="#dadada" stroke="none"/>
<ellipse cx="799.6" cy="530.6" rx="2.1" ry="3" transform="rotate(-15 799.6 530.6)" stroke="#a8a8a8" stroke-width="0.8"  />
<path d="M801.3 532.8C801.1 533 800.9 533.2 800.7 533.3C800.6 533.4 800.3 533.5 800.1 533.5C799.9 533.5 799.6 533.5 799.4 533.4C799.2 533.3 798.9 533.2 798.7 533C798.5 532.8 798.3 532.6 798.1 532.4C798 532.1 797.8 531.8 797.7 531.5C797.6 531.2 797.5 530.9 797.5 530.6C797.4 530.3 797.4 530 797.4 529.7C797.5 529.4 797.5 529.1 797.6 528.8C797.7 528.6 797.9 528.4 798 528.2C798.2 528 798.4 527.8 798.6 527.8C798.8 527.7 799 527.6 799.3 527.6C799.5 527.7 799.8 527.7 800 527.8C800.2 527.9 800.4 528.1 800.6 528.3" stroke="#222" stroke-width="1.0" />
<path d="M785.8 528.1C788.6 527.1 791.3 525.7 794.2 525.2C795.5 524.9 797 525.2 798.3 525.6C799.7 526 801.2 526.6 802.1 527.7C803 528.8 803.3 530.4 803.3 531.8C803.3 533 802.9 534.3 802.2 535.2C801.2 536.3 799.7 536.9 798.3 537.7C795.9 539 793.5 540.5 790.8 541.4C789 542.1 787.1 542 785.2 542.3" stroke="#222" stroke-width="1.0" />
<path d="M785.8 528.1C785.1 529.6 783.9 531 783.8 532.7C783.5 534.9 784 537.2 784.6 539.3C784.9 540.3 785.8 541.1 786.3 541.9" stroke="#222" stroke-width="1.0" />
<path d="M789.3 526.7C788.7 528.4 787.6 530 787.5 531.8C787.4 533.8 787.9 535.9 788.8 537.7C789.3 538.8 790.5 539.4 791.3 540.3" stroke="#222" stroke-width="1.0" />
<path d="M782.7 531.8C781.8 532.9 780.4 533.8 780 535.2C779.6 536.5 779.9 538 780.4 539.3C780.8 540.3 781.6 541.3 782.5 541.8C783.3 542.3 784.4 542.2 785.4 542.3" stroke="#222" stroke-width="1.0" />
<path d="M795 525.6C794.7 527.4 794 529.2 794.2 531C794.3 532.8 794.9 534.5 795.8 536C796.4 536.8 797.5 537.1 798.3 537.7" stroke="#6a6a6a" stroke-width="0.85" />
<line x1="308.5" y1="518.3" x2="320.8" y2="550.7" stroke="#1e1e1e" stroke-width="0.98" />
<line x1="326.5" y1="401.8" x2="351.7" y2="426.6" stroke="#1e1e1e" stroke-width="0.98" />
<line x1="526.1" y1="336.2" x2="539.6" y2="368.3" stroke="#1e1e1e" stroke-width="0.98" />
<line x1="575.6" y1="302.5" x2="584.3" y2="333.3" stroke="#1e1e1e" stroke-width="0.98" />
<line x1="669.8" y1="382.4" x2="696.8" y2="415" stroke="#1e1e1e" stroke-width="0.98" />
<line x1="743.8" y1="402.1" x2="739.3" y2="429.3" stroke="#1e1e1e" stroke-width="0.98" />
<line x1="777.9" y1="352.1" x2="802.6" y2="377.3" stroke="#1e1e1e" stroke-width="0.98" />
<line x1="877.5" y1="379.1" x2="848.7" y2="398.3" stroke="#1e1e1e" stroke-width="0.98" />
<line x1="896.6" y1="423" x2="865.3" y2="434.3" stroke="#1e1e1e" stroke-width="0.98" />
<line x1="880" y1="485.3" x2="918.7" y2="485.7" stroke="#1e1e1e" stroke-width="0.98" />
<line x1="796.7" y1="537.9" x2="815.7" y2="566.5" stroke="#1e1e1e" stroke-width="0.98" />
<line x1="848.5" y1="304.6" x2="820.8" y2="330.4" stroke="#1e1e1e" stroke-width="0.98" />
<line x1="766.5" y1="281.9" x2="797.5" y2="324.5" stroke="#000" stroke-width="1.25"/>
<path d="M802.4 330.8L793.7 325L798.8 321.2Z" fill="#000" stroke="#000" stroke-width="0.5"/>
<line x1="305.2" y1="504.3" x2="321" y2="495.2" stroke="#4a4a4a" stroke-width="0.85" stroke-linecap="butt" stroke-dasharray="6.4 1.7 1.1 1.7" />
<line x1="331" y1="489.3" x2="379.5" y2="461.2" stroke="#4a4a4a" stroke-width="0.85" stroke-linecap="butt" stroke-dasharray="6.4 1.7 1.1 1.7" />
<line x1="403" y1="447.6" x2="433.8" y2="430" stroke="#4a4a4a" stroke-width="0.85" stroke-linecap="butt" stroke-dasharray="6.4 1.7 1.1 1.7" />
<line x1="498.7" y1="392.6" x2="514.5" y2="383.3" stroke="#4a4a4a" stroke-width="0.85" stroke-linecap="butt" stroke-dasharray="6.4 1.7 1.1 1.7" />
<line x1="567.1" y1="353.3" x2="583.3" y2="344.6" stroke="#4a4a4a" stroke-width="0.85" stroke-linecap="butt" stroke-dasharray="6.4 1.7 1.1 1.7" />
<path d="M805 398.7L800 419.1L838.5 427.9L827.8 465.5" stroke="#4a4a4a" stroke-width="0.85" stroke-linecap="butt" stroke-dasharray="6.4 1.7 1.1 1.7"/>
<path d="M822.5 359.2L838.3 396.6M848.2 420.5L857.8 441.7M862 453L876.7 486.2" stroke="#4a4a4a" stroke-width="0.85" stroke-linecap="butt" stroke-dasharray="6.4 1.7 1.1 1.7"/>
<line x1="689" y1="573" x2="777.9" y2="538.9" stroke="#4a4a4a" stroke-width="0.85" stroke-linecap="butt" stroke-dasharray="6.4 1.7 1.1 1.7" />
<line x1="802.5" y1="529.7" x2="820.8" y2="522.2" stroke="#4a4a4a" stroke-width="0.85" stroke-linecap="butt" stroke-dasharray="6.4 1.7 1.1 1.7" />
<line x1="742.2" y1="448.2" x2="742.2" y2="463" stroke="#111" stroke-width="1.8"/>
<line x1="742.2" y1="469" x2="742.2" y2="472.5" stroke="#111" stroke-width="1.6"/>
<rect x="635.9" y="232.1" width="172.9" height="48.9" stroke="#111" stroke-width="1.4" fill="none"/>
<text transform="translate(639.6 241.2) scale(0.945 1)" font-size="8">BULBO PRESSIONE ARIA MOTORE</text>
<text transform="translate(639.6 250.2) scale(0.945 1)" font-size="8">BOULE DE PRESSION AIR DE MOTEUR</text>
<text transform="translate(639.6 259.3) scale(0.945 1)" font-size="8">ENGINE AIR PRESSION SENSOR</text>
<text transform="translate(639.6 268.4) scale(0.945 1)" font-size="8">TRIEBWERKLUFT-DRUCK-SENSOR</text>
<text transform="translate(639.6 277.4) scale(0.945 1)" font-size="8">BULBO DE LA PRESIÓN DE AIRE DE MOTOR</text>
<path d="M763 0H583V1147Q518 1085 412 1023Q307 961 223 930V1104Q374 1175 487 1276Q600 1377 647 1472H763Z" transform="translate(320 565.8) scale(0.00723 -0.00723)" fill="#000" stroke="none"/>
<text x="315.4" y="400.3" font-size="14.8">2</text>
<text x="521.9" y="331.8" font-size="14.8">3</text>
<text x="571.5" y="300.7" font-size="14.8">4</text>
<text x="662.8" y="379.9" font-size="14.8">5</text>
<text x="741.7" y="397.5" font-size="14.8">6</text>
<text x="766.5" y="355.3" font-size="14.8">7</text>
<text x="880.4" y="380.9" font-size="14.8">8</text>
<text x="899.8" y="426.8" font-size="14.8">9</text>
<path d="M763 0H583V1147Q518 1085 412 1023Q307 961 223 930V1104Q374 1175 487 1276Q600 1377 647 1472H763Z" transform="translate(919.8 491) scale(0.00723 -0.00723)" fill="#000" stroke="none"/>
<text x="928" y="491" font-size="14.8">0</text>
<path d="M763 0H583V1147Q518 1085 412 1023Q307 961 223 930V1104Q374 1175 487 1276Q600 1377 647 1472H763Z" transform="translate(814.1 579.9) scale(0.00723 -0.00723)" fill="#000" stroke="none"/>
<path d="M763 0H583V1147Q518 1085 412 1023Q307 961 223 930V1104Q374 1175 487 1276Q600 1377 647 1472H763Z" transform="translate(821.2 579.9) scale(0.00723 -0.00723)" fill="#000" stroke="none"/>
<path d="M763 0H583V1147Q518 1085 412 1023Q307 961 223 930V1104Q374 1175 487 1276Q600 1377 647 1472H763Z" transform="translate(841.9 300.1) scale(0.00723 -0.00723)" fill="#000" stroke="none"/>
<text x="850.1" y="300.1" font-size="14.8">2</text>
</g>
</svg>
</body></html>
